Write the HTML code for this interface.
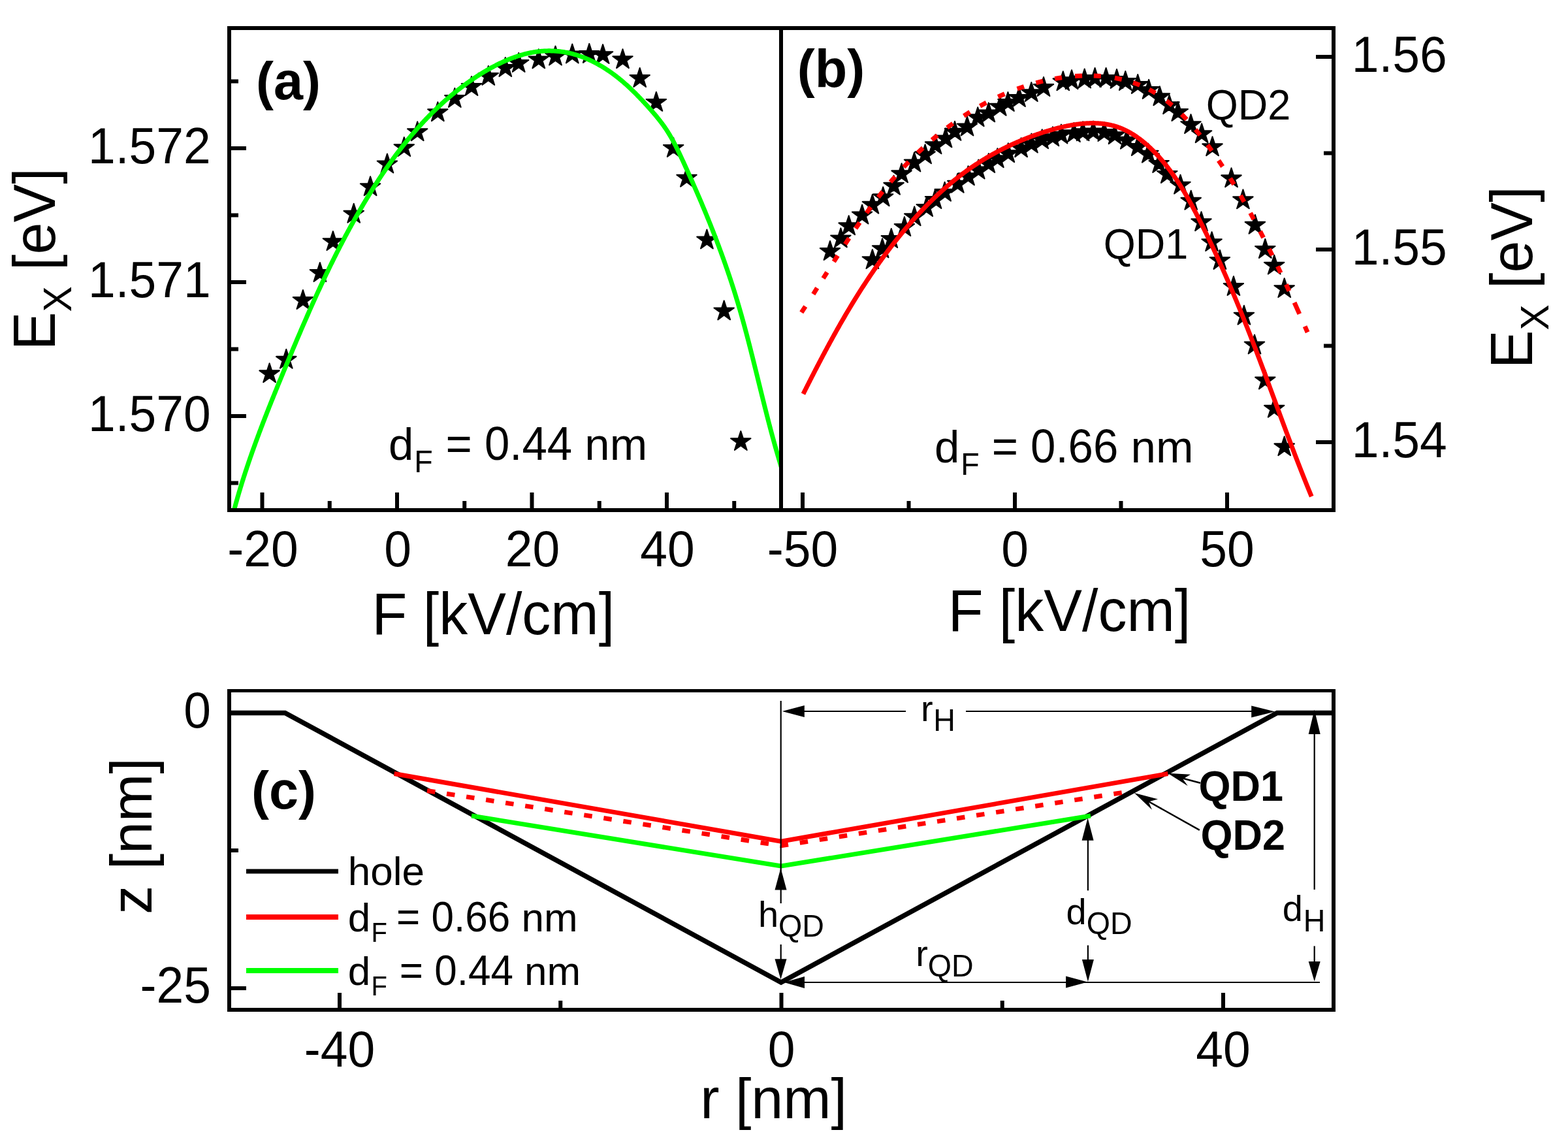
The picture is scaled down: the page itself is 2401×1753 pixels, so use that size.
<!DOCTYPE html><html><head><meta charset="utf-8"><style>html,body{margin:0;padding:0;background:#fff;overflow:hidden}svg{display:block}</style></head><body><svg width="2401" height="1753" viewBox="0 0 2401 1753" font-family="'Liberation Sans', Arial, sans-serif" fill="#000"><rect width="100%" height="100%" fill="#fff"/><rect x="348" y="40" width="1697" height="6" fill="#000"/>
<rect x="348" y="778" width="1697" height="6" fill="#000"/>
<rect x="348" y="40" width="6" height="744" fill="#000"/>
<rect x="1193" y="40" width="6" height="744" fill="#000"/>
<rect x="2039" y="40" width="6" height="744" fill="#000"/>
<rect x="348" y="1055" width="1697" height="5" fill="#000"/>
<rect x="348" y="1543" width="1697" height="6" fill="#000"/>
<rect x="348" y="1055" width="6" height="494" fill="#000"/>
<rect x="2039" y="1055" width="6" height="494" fill="#000"/>
<rect x="398.5" y="754" width="6" height="24" fill="#000"/>
<rect x="605" y="754" width="6" height="24" fill="#000"/>
<rect x="811.5" y="754" width="6" height="24" fill="#000"/>
<rect x="1018" y="754" width="6" height="24" fill="#000"/>
<rect x="501.75" y="767" width="6" height="11" fill="#000"/>
<rect x="708.25" y="767" width="6" height="11" fill="#000"/>
<rect x="914.75" y="767" width="6" height="11" fill="#000"/>
<rect x="1121.25" y="767" width="6" height="11" fill="#000"/>
<rect x="354" y="224" width="23" height="6" fill="#000"/>
<rect x="354" y="429" width="23" height="6" fill="#000"/>
<rect x="354" y="634" width="23" height="6" fill="#000"/>
<rect x="354" y="121.5" width="11" height="6" fill="#000"/>
<rect x="354" y="326.5" width="11" height="6" fill="#000"/>
<rect x="354" y="531.5" width="11" height="6" fill="#000"/>
<rect x="354" y="736.5" width="11" height="6" fill="#000"/>
<rect x="1226" y="754" width="6" height="24" fill="#000"/>
<rect x="1551" y="754" width="6" height="24" fill="#000"/>
<rect x="1876" y="754" width="6" height="24" fill="#000"/>
<rect x="1388.5" y="767" width="6" height="11" fill="#000"/>
<rect x="1713.5" y="767" width="6" height="11" fill="#000"/>
<rect x="2015" y="84" width="24" height="6" fill="#000"/>
<rect x="2015" y="379" width="24" height="6" fill="#000"/>
<rect x="2015" y="674" width="24" height="6" fill="#000"/>
<rect x="2027" y="231.5" width="12" height="6" fill="#000"/>
<rect x="2027" y="526.5" width="12" height="6" fill="#000"/>
<rect x="517" y="1520" width="6" height="23" fill="#000"/>
<rect x="1193.5" y="1520" width="6" height="23" fill="#000"/>
<rect x="1870" y="1520" width="6" height="23" fill="#000"/>
<rect x="855.25" y="1532" width="6" height="11" fill="#000"/>
<rect x="1531.75" y="1532" width="6" height="11" fill="#000"/>
<rect x="354" y="1510" width="23" height="6" fill="#000"/>
<rect x="354" y="1299" width="11" height="6" fill="#000"/>
<defs><clipPath id="ca"><rect x="354" y="46" width="839" height="732"/></clipPath><clipPath id="cb"><rect x="1199" y="46" width="840" height="732"/></clipPath></defs>
<path d="M412.6,556.3 L416.19,567.36 L427.82,567.36 L418.41,574.19 L422,585.24 L412.6,578.41 L403.2,585.24 L406.79,574.19 L397.38,567.36 L409.01,567.36ZM438.3,534.8 L441.89,545.86 L453.52,545.86 L444.11,552.69 L447.7,563.74 L438.3,556.91 L428.9,563.74 L432.49,552.69 L423.08,545.86 L434.71,545.86ZM463.9,444 L467.49,455.06 L479.12,455.06 L469.71,461.89 L473.3,472.94 L463.9,466.11 L454.5,472.94 L458.09,461.89 L448.68,455.06 L460.31,455.06ZM489.9,402 L493.49,413.06 L505.12,413.06 L495.71,419.89 L499.3,430.94 L489.9,424.11 L480.5,430.94 L484.09,419.89 L474.68,413.06 L486.31,413.06ZM509.9,354.1 L513.49,365.16 L525.12,365.16 L515.71,371.99 L519.3,383.04 L509.9,376.21 L500.5,383.04 L504.09,371.99 L494.68,365.16 L506.31,365.16ZM541.7,311.8 L545.29,322.86 L556.92,322.86 L547.51,329.69 L551.1,340.74 L541.7,333.91 L532.3,340.74 L535.89,329.69 L526.48,322.86 L538.11,322.86ZM567.1,270.2 L570.69,281.26 L582.32,281.26 L572.91,288.09 L576.5,299.14 L567.1,292.31 L557.7,299.14 L561.29,288.09 L551.88,281.26 L563.51,281.26ZM592.9,235.5 L596.49,246.56 L608.12,246.56 L598.71,253.39 L602.3,264.44 L592.9,257.61 L583.5,264.44 L587.09,253.39 L577.68,246.56 L589.31,246.56ZM618.8,210.1 L622.39,221.16 L634.02,221.16 L624.61,227.99 L628.2,239.04 L618.8,232.21 L609.4,239.04 L612.99,227.99 L603.58,221.16 L615.21,221.16ZM639.2,186.2 L642.79,197.26 L654.42,197.26 L645.01,204.09 L648.6,215.14 L639.2,208.31 L629.8,215.14 L633.39,204.09 L623.98,197.26 L635.61,197.26ZM670.3,156.2 L673.89,167.26 L685.52,167.26 L676.11,174.09 L679.7,185.14 L670.3,178.31 L660.9,185.14 L664.49,174.09 L655.08,167.26 L666.71,167.26ZM696.3,135 L699.89,146.06 L711.52,146.06 L702.11,152.89 L705.7,163.94 L696.3,157.11 L686.9,163.94 L690.49,152.89 L681.08,146.06 L692.71,146.06ZM722,117 L725.59,128.06 L737.22,128.06 L727.81,134.89 L731.4,145.94 L722,139.11 L712.6,145.94 L716.19,134.89 L706.78,128.06 L718.41,128.06ZM747.8,101 L751.39,112.06 L763.02,112.06 L753.61,118.89 L757.2,129.94 L747.8,123.11 L738.4,129.94 L741.99,118.89 L732.58,112.06 L744.21,112.06ZM773.8,88 L777.39,99.06 L789.02,99.06 L779.61,105.89 L783.2,116.94 L773.8,110.11 L764.4,116.94 L767.99,105.89 L758.58,99.06 L770.21,99.06ZM794.2,81 L797.79,92.06 L809.42,92.06 L800.01,98.89 L803.6,109.94 L794.2,103.11 L784.8,109.94 L788.39,98.89 L778.98,92.06 L790.61,92.06ZM824.8,75.4 L828.39,86.46 L840.02,86.46 L830.61,93.29 L834.2,104.34 L824.8,97.51 L815.4,104.34 L818.99,93.29 L809.58,86.46 L821.21,86.46ZM850.5,70.6 L854.09,81.66 L865.72,81.66 L856.31,88.49 L859.9,99.54 L850.5,92.71 L841.1,99.54 L844.69,88.49 L835.28,81.66 L846.91,81.66ZM876.3,67.5 L879.89,78.56 L891.52,78.56 L882.11,85.39 L885.7,96.44 L876.3,89.61 L866.9,96.44 L870.49,85.39 L861.08,78.56 L872.71,78.56ZM902.3,66.9 L905.89,77.96 L917.52,77.96 L908.11,84.79 L911.7,95.84 L902.3,89.01 L892.9,95.84 L896.49,84.79 L887.08,77.96 L898.71,77.96ZM923.1,68.1 L926.69,79.16 L938.32,79.16 L928.91,85.99 L932.5,97.04 L923.1,90.21 L913.7,97.04 L917.29,85.99 L907.88,79.16 L919.51,79.16ZM953.5,75.2 L957.09,86.26 L968.72,86.26 L959.31,93.09 L962.9,104.14 L953.5,97.31 L944.1,104.14 L947.69,93.09 L938.28,86.26 L949.91,86.26ZM979.7,104 L983.29,115.06 L994.92,115.06 L985.51,121.89 L989.1,132.94 L979.7,126.11 L970.3,132.94 L973.89,121.89 L964.48,115.06 L976.11,115.06ZM1004.9,140.9 L1008.49,151.96 L1020.12,151.96 L1010.71,158.79 L1014.3,169.84 L1004.9,163.01 L995.5,169.84 L999.09,158.79 L989.68,151.96 L1001.31,151.96ZM1031.2,210.9 L1034.79,221.96 L1046.42,221.96 L1037.01,228.79 L1040.6,239.84 L1031.2,233.01 L1021.8,239.84 L1025.39,228.79 L1015.98,221.96 L1027.61,221.96ZM1051.5,256.7 L1055.09,267.76 L1066.72,267.76 L1057.31,274.59 L1060.9,285.64 L1051.5,278.81 L1042.1,285.64 L1045.69,274.59 L1036.28,267.76 L1047.91,267.76ZM1082.4,351.5 L1085.99,362.56 L1097.62,362.56 L1088.21,369.39 L1091.8,380.44 L1082.4,373.61 L1073,380.44 L1076.59,369.39 L1067.18,362.56 L1078.81,362.56ZM1108.7,460.4 L1112.29,471.46 L1123.92,471.46 L1114.51,478.29 L1118.1,489.34 L1108.7,482.51 L1099.3,489.34 L1102.89,478.29 L1093.48,471.46 L1105.11,471.46ZM1134.3,660.1 L1137.89,671.16 L1149.52,671.16 L1140.11,677.99 L1143.7,689.04 L1134.3,682.21 L1124.9,689.04 L1128.49,677.99 L1119.08,671.16 L1130.71,671.16Z" fill="#000" stroke="#000" stroke-width="2" stroke-linejoin="round"/>
<g clip-path="url(#ca)"><path d="M350,812.1 L359.41,777.34 L359.69,776.31 L359.97,775.28 L360.25,774.24 L360.54,773.21 L360.82,772.17 L361.11,771.14 L361.39,770.1 L361.68,769.07 L361.97,768.04 L362.26,767 L362.55,765.97 L362.84,764.93 L363.14,763.9 L363.43,762.86 L363.73,761.83 L364.03,760.79 L364.33,759.76 L364.63,758.72 L364.93,757.69 L365.23,756.65 L365.54,755.62 L365.84,754.58 L366.15,753.54 L366.45,752.51 L366.76,751.47 L367.07,750.44 L367.38,749.4 L367.7,748.37 L368.01,747.33 L368.32,746.3 L368.64,745.26 L368.96,744.22 L369.27,743.19 L369.59,742.15 L369.91,741.12 L370.23,740.08 L370.56,739.04 L370.88,738.01 L371.2,736.97 L371.53,735.93 L371.86,734.9 L372.18,733.86 L372.51,732.83 L372.84,731.79 L373.17,730.75 L373.51,729.72 L373.84,728.68 L374.17,727.64 L374.51,726.61 L374.84,725.57 L375.18,724.53 L375.52,723.5 L375.86,722.46 L376.2,721.42 L376.54,720.39 L376.88,719.35 L377.23,718.31 L377.57,717.28 L377.91,716.24 L378.26,715.2 L378.61,714.17 L378.96,713.13 L379.31,712.09 L379.66,711.06 L380.01,710.02 L380.36,708.98 L380.71,707.95 L381.06,706.91 L381.42,705.87 L381.77,704.84 L382.13,703.8 L382.49,702.76 L382.85,701.73 L383.21,700.69 L383.57,699.65 L383.93,698.62 L384.29,697.58 L384.65,696.54 L385.01,695.51 L385.38,694.47 L385.74,693.43 L386.11,692.4 L386.48,691.36 L386.84,690.32 L387.21,689.29 L387.58,688.25 L387.95,687.21 L388.32,686.18 L388.7,685.14 L389.07,684.1 L389.44,683.07 L389.82,682.03 L390.19,680.99 L390.57,679.96 L390.94,678.92 L391.32,677.89 L391.7,676.85 L392.08,675.81 L392.46,674.78 L392.84,673.74 L393.22,672.7 L393.6,671.67 L393.98,670.63 L394.36,669.6 L394.75,668.56 L395.13,667.52 L395.52,666.49 L395.9,665.45 L396.29,664.42 L396.68,663.38 L397.07,662.35 L397.45,661.31 L397.84,660.27 L398.23,659.24 L398.62,658.2 L399.02,657.17 L399.41,656.13 L399.8,655.1 L400.19,654.06 L400.59,653.03 L400.98,651.99 L401.38,650.96 L401.77,649.92 L402.17,648.89 L402.56,647.85 L402.96,646.82 L403.36,645.78 L403.76,644.75 L404.16,643.71 L404.56,642.68 L404.96,641.65 L405.36,640.61 L405.76,639.58 L406.16,638.54 L406.56,637.51 L406.97,636.47 L407.37,635.44 L407.77,634.41 L408.18,633.37 L408.58,632.34 L408.99,631.31 L409.39,630.27 L409.8,629.24 L410.21,628.21 L410.62,627.17 L411.02,626.14 L411.43,625.11 L411.84,624.07 L412.25,623.04 L412.66,622.01 L413.07,620.98 L413.48,619.94 L413.89,618.91 L414.3,617.88 L414.71,616.85 L415.13,615.81 L415.54,614.78 L415.95,613.75 L416.36,612.72 L416.78,611.69 L417.19,610.65 L417.61,609.62 L418.02,608.59 L418.44,607.56 L418.85,606.53 L419.27,605.5 L419.69,604.47 L420.1,603.44 L420.52,602.41 L420.94,601.38 L421.35,600.35 L421.77,599.32 L422.19,598.29 L422.61,597.26 L423.03,596.23 L423.45,595.2 L423.87,594.17 L424.29,593.14 L424.71,592.11 L425.13,591.08 L425.55,590.05 L425.97,589.02 L426.39,587.99 L426.81,586.96 L427.23,585.93 L427.65,584.91 L428.08,583.88 L428.5,582.85 L428.92,581.82 L429.34,580.79 L429.77,579.77 L430.19,578.74 L430.61,577.71 L431.04,576.68 L431.46,575.66 L431.88,574.63 L432.31,573.6 L432.73,572.58 L433.16,571.55 L433.58,570.52 L434.01,569.5 L434.43,568.47 L434.86,567.45 L435.28,566.42 L435.71,565.4 L436.13,564.37 L436.56,563.35 L436.98,562.32 L437.41,561.3 L437.83,560.27 L438.26,559.25 L438.69,558.22 L439.11,557.2 L439.54,556.18 L439.96,555.15 L440.39,554.13 L440.82,553.1 L441.24,552.08 L441.67,551.06 L442.1,550.04 L442.52,549.01 L442.95,547.99 L443.38,546.97 L443.8,545.95 L444.23,544.92 L444.66,543.9 L445.09,542.88 L445.51,541.86 L445.94,540.84 L446.37,539.82 L446.8,538.8 L447.23,537.78 L447.66,536.76 L448.08,535.74 L448.51,534.72 L448.94,533.7 L449.37,532.68 L449.8,531.66 L450.23,530.64 L450.66,529.62 L451.09,528.6 L451.52,527.58 L451.95,526.57 L452.38,525.55 L452.81,524.53 L453.24,523.51 L453.67,522.5 L454.11,521.48 L454.54,520.46 L454.97,519.44 L455.4,518.43 L455.83,517.41 L456.27,516.4 L456.7,515.38 L457.13,514.36 L457.57,513.35 L458,512.33 L458.43,511.32 L458.87,510.3 L459.3,509.29 L459.74,508.28 L460.17,507.26 L460.61,506.25 L461.04,505.24 L461.48,504.22 L461.91,503.21 L462.35,502.2 L462.79,501.18 L463.22,500.17 L463.66,499.16 L464.1,498.15 L464.54,497.14 L464.97,496.13 L465.41,495.11 L465.85,494.1 L466.29,493.09 L466.73,492.08 L467.17,491.07 L467.61,490.06 L468.05,489.05 L468.49,488.04 L468.93,487.04 L469.37,486.03 L469.81,485.02 L470.26,484.01 L470.7,483 L471.14,481.99 L471.58,480.99 L472.03,479.98 L472.47,478.97 L472.92,477.97 L473.36,476.96 L473.81,475.95 L474.25,474.95 L474.7,473.94 L475.14,472.94 L475.59,471.93 L476.04,470.93 L476.48,469.92 L476.93,468.92 L477.38,467.92 L477.83,466.91 L478.28,465.91 L478.73,464.91 L479.18,463.9 L479.63,462.9 L480.08,461.9 L480.53,460.9 L480.98,459.9 L481.43,458.9 L481.89,457.9 L482.34,456.89 L482.79,455.89 L483.25,454.89 L483.7,453.9 L484.15,452.9 L484.61,451.9 L485.07,450.9 L485.52,449.9 L485.98,448.9 L486.44,447.9 L486.89,446.91 L487.35,445.91 L487.81,444.91 L488.27,443.92 L488.73,442.92 L489.19,441.92 L489.65,440.93 L490.11,439.93 L490.57,438.94 L491.03,437.94 L491.5,436.95 L491.96,435.95 L492.42,434.96 L492.89,433.97 L493.35,432.97 L493.82,431.98 L494.28,430.99 L494.75,430 L495.22,429.01 L495.69,428.01 L496.15,427.02 L496.62,426.03 L497.09,425.04 L497.56,424.05 L498.03,423.06 L498.5,422.07 L498.98,421.08 L499.45,420.09 L499.92,419.11 L500.39,418.12 L500.87,417.13 L501.34,416.14 L501.82,415.16 L502.29,414.17 L502.77,413.18 L503.25,412.2 L503.72,411.21 L504.2,410.23 L504.68,409.24 L505.16,408.26 L505.64,407.27 L506.12,406.29 L506.6,405.31 L507.08,404.32 L507.57,403.34 L508.05,402.36 L508.53,401.38 L509.02,400.4 L509.5,399.41 L509.99,398.43 L510.48,397.45 L510.96,396.47 L511.45,395.49 L511.94,394.51 L512.43,393.53 L512.92,392.56 L513.41,391.58 L513.9,390.6 L514.39,389.62 L514.89,388.65 L515.38,387.67 L515.88,386.69 L516.37,385.72 L516.87,384.74 L517.36,383.77 L517.86,382.79 L518.36,381.82 L518.86,380.84 L519.36,379.87 L519.86,378.9 L520.36,377.92 L520.86,376.95 L521.36,375.98 L521.86,375.01 L522.37,374.04 L522.87,373.07 L523.38,372.09 L523.88,371.12 L524.39,370.16 L524.9,369.19 L525.41,368.22 L525.91,367.25 L526.42,366.28 L526.94,365.31 L527.45,364.35 L527.96,363.38 L528.47,362.41 L528.99,361.45 L529.5,360.48 L530.02,359.52 L530.53,358.55 L531.05,357.59 L531.57,356.62 L532.09,355.66 L532.61,354.7 L533.13,353.74 L533.65,352.77 L534.17,351.81 L534.69,350.85 L535.22,349.89 L535.74,348.93 L536.27,347.97 L536.79,347.01 L537.32,346.05 L537.85,345.09 L538.38,344.13 L538.91,343.18 L539.44,342.22 L539.97,341.26 L540.5,340.31 L541.04,339.35 L541.57,338.39 L542.11,337.44 L542.64,336.48 L543.18,335.53 L543.72,334.58 L544.26,333.62 L544.8,332.67 L545.34,331.72 L545.88,330.77 L546.42,329.81 L546.96,328.86 L547.51,327.91 L548.05,326.96 L548.6,326.01 L549.15,325.06 L549.7,324.12 L550.24,323.17 L550.79,322.22 L551.35,321.27 L551.9,320.33 L552.45,319.38 L553,318.43 L553.56,317.49 L554.11,316.54 L554.67,315.6 L555.23,314.65 L555.79,313.71 L556.35,312.77 L556.91,311.83 L557.47,310.88 L558.03,309.94 L558.6,309 L559.16,308.06 L559.73,307.12 L560.29,306.18 L560.86,305.24 L561.43,304.3 L562,303.36 L562.57,302.43 L563.14,301.49 L563.72,300.55 L564.29,299.62 L564.86,298.68 L565.44,297.75 L566.02,296.81 L566.6,295.88 L567.17,294.94 L567.75,294.01 L568.34,293.08 L568.92,292.15 L569.5,291.21 L570.09,290.28 L570.67,289.35 L571.26,288.42 L571.85,287.49 L572.44,286.57 L573.03,285.64 L573.62,284.71 L574.21,283.78 L574.8,282.86 L575.4,281.93 L575.99,281.01 L576.59,280.08 L577.19,279.16 L577.79,278.24 L578.39,277.32 L578.99,276.39 L579.59,275.47 L580.2,274.55 L580.8,273.64 L581.41,272.72 L582.02,271.8 L582.62,270.88 L583.23,269.97 L583.85,269.05 L584.46,268.14 L585.07,267.22 L585.69,266.31 L586.3,265.4 L586.92,264.49 L587.54,263.57 L588.16,262.66 L588.78,261.76 L589.4,260.85 L590.02,259.94 L590.65,259.03 L591.28,258.13 L591.9,257.22 L592.53,256.32 L593.16,255.42 L593.79,254.51 L594.42,253.61 L595.06,252.71 L595.69,251.81 L596.33,250.91 L596.97,250.02 L597.61,249.12 L598.25,248.23 L598.89,247.33 L599.53,246.44 L600.18,245.54 L600.82,244.65 L601.47,243.76 L602.12,242.87 L602.77,241.98 L603.42,241.1 L604.07,240.21 L604.72,239.32 L605.38,238.44 L606.04,237.56 L606.69,236.67 L607.35,235.79 L608.01,234.91 L608.68,234.03 L609.34,233.15 L610.01,232.28 L610.67,231.4 L611.34,230.53 L612.01,229.65 L612.68,228.78 L613.35,227.91 L614.03,227.04 L614.7,226.17 L615.38,225.3 L616.06,224.43 L616.74,223.57 L617.42,222.7 L618.1,221.84 L618.78,220.98 L619.47,220.12 L620.16,219.26 L620.84,218.4 L621.53,217.54 L622.23,216.69 L622.92,215.83 L623.61,214.98 L624.31,214.13 L625.01,213.28 L625.71,212.43 L626.41,211.58 L627.11,210.73 L627.81,209.89 L628.52,209.04 L629.23,208.2 L629.93,207.36 L630.65,206.52 L631.36,205.68 L632.07,204.84 L632.78,204 L633.5,203.17 L634.22,202.34 L634.94,201.5 L635.66,200.67 L636.38,199.84 L637.11,199.02 L637.83,198.19 L638.56,197.36 L639.29,196.54 L640.02,195.72 L640.76,194.9 L641.49,194.08 L642.23,193.26 L642.96,192.45 L643.7,191.63 L644.44,190.82 L645.19,190.01 L645.93,189.2 L646.68,188.39 L647.43,187.58 L648.17,186.78 L648.93,185.97 L649.68,185.17 L650.43,184.37 L651.19,183.57 L651.95,182.77 L652.71,181.98 L653.47,181.18 L654.23,180.39 L655,179.6 L655.76,178.81 L656.53,178.02 L657.3,177.23 L658.08,176.45 L658.85,175.67 L659.62,174.89 L660.4,174.11 L661.18,173.33 L661.96,172.55 L662.74,171.78 L663.53,171 L664.32,170.23 L665.1,169.46 L665.89,168.7 L666.69,167.93 L667.48,167.17 L668.28,166.4 L669.07,165.64 L669.87,164.88 L670.67,164.13 L671.48,163.37 L672.28,162.62 L673.09,161.87 L673.9,161.12 L674.71,160.37 L675.52,159.62 L676.33,158.88 L677.15,158.14 L677.97,157.4 L678.79,156.66 L679.61,155.92 L680.43,155.18 L681.26,154.45 L682.08,153.72 L682.91,152.99 L683.75,152.26 L684.58,151.54 L685.41,150.81 L686.25,150.09 L687.09,149.37 L687.93,148.66 L688.77,147.94 L689.62,147.23 L690.47,146.51 L691.32,145.81 L692.17,145.1 L693.02,144.39 L693.87,143.69 L694.73,142.99 L695.59,142.29 L696.45,141.59 L697.31,140.89 L698.18,140.2 L699.05,139.51 L699.92,138.82 L700.79,138.13 L701.66,137.45 L702.53,136.76 L703.41,136.08 L704.29,135.4 L705.17,134.73 L706.06,134.05 L706.94,133.38 L707.83,132.71 L708.72,132.04 L709.61,131.37 L710.5,130.71 L711.4,130.05 L712.3,129.39 L713.2,128.73 L714.1,128.08 L715,127.42 L715.91,126.77 L716.82,126.13 L717.73,125.48 L718.64,124.84 L719.56,124.19 L720.48,123.55 L721.39,122.92 L722.32,122.28 L723.24,121.65 L724.17,121.02 L725.09,120.39 L726.02,119.77 L726.96,119.14 L727.89,118.52 L728.83,117.9 L729.77,117.29 L730.71,116.67 L731.65,116.06 L732.6,115.45 L733.54,114.85 L734.49,114.25 L735.44,113.65 L736.4,113.05 L737.35,112.45 L738.31,111.86 L739.27,111.28 L740.23,110.69 L741.19,110.11 L742.16,109.53 L743.13,108.96 L744.09,108.38 L745.06,107.82 L746.04,107.25 L747.01,106.69 L747.99,106.13 L748.97,105.58 L749.95,105.03 L750.93,104.48 L751.91,103.94 L752.9,103.4 L753.88,102.86 L754.87,102.33 L755.86,101.81 L756.86,101.28 L757.85,100.77 L758.84,100.25 L759.84,99.74 L760.84,99.23 L761.84,98.73 L762.84,98.24 L763.85,97.74 L764.85,97.26 L765.86,96.77 L766.86,96.29 L767.87,95.82 L768.89,95.35 L769.9,94.89 L770.91,94.43 L771.93,93.97 L772.94,93.52 L773.96,93.08 L774.98,92.64 L776,92.21 L777.03,91.78 L778.05,91.36 L779.07,90.94 L780.1,90.52 L781.13,90.12 L782.16,89.72 L783.19,89.32 L784.22,88.93 L785.25,88.55 L786.29,88.17 L787.32,87.79 L788.36,87.43 L789.39,87.07 L790.43,86.71 L791.47,86.36 L792.51,86.02 L793.56,85.68 L794.6,85.35 L795.64,85.03 L796.69,84.71 L797.73,84.4 L798.78,84.09 L799.83,83.8 L800.88,83.5 L801.93,83.22 L802.98,82.94 L804.03,82.67 L805.08,82.4 L806.14,82.15 L807.19,81.9 L808.25,81.65 L809.31,81.41 L810.36,81.18 L811.42,80.96 L812.48,80.75 L813.54,80.54 L814.6,80.34 L815.66,80.14 L816.72,79.96 L817.79,79.78 L818.85,79.61 L819.91,79.44 L820.98,79.29 L822.05,79.14 L823.11,79 L824.18,78.87 L825.25,78.74 L826.31,78.63 L827.38,78.52 L828.45,78.42 L829.52,78.32 L830.59,78.24 L831.66,78.16 L832.73,78.1 L833.81,78.04 L834.88,77.99 L835.95,77.94 L837.02,77.91 L838.1,77.88 L839.17,77.87 L840.24,77.86 L841.32,77.86 L842.39,77.86 L843.47,77.88 L844.54,77.9 L845.62,77.94 L846.69,77.98 L847.77,78.03 L848.84,78.08 L849.91,78.15 L850.99,78.22 L852.06,78.3 L853.13,78.39 L854.21,78.49 L855.28,78.6 L856.35,78.71 L857.42,78.84 L858.5,78.97 L859.57,79.11 L860.64,79.25 L861.71,79.41 L862.78,79.57 L863.84,79.75 L864.91,79.93 L865.98,80.11 L867.04,80.31 L868.11,80.52 L869.17,80.73 L870.24,80.95 L871.3,81.18 L872.36,81.42 L873.42,81.66 L874.48,81.91 L875.54,82.18 L876.59,82.45 L877.65,82.72 L878.7,83.01 L879.76,83.3 L880.81,83.6 L881.86,83.91 L882.91,84.23 L883.95,84.56 L885,84.89 L886.04,85.23 L887.08,85.58 L888.12,85.94 L889.16,86.31 L890.2,86.68 L891.24,87.06 L892.27,87.45 L893.3,87.85 L894.33,88.25 L895.36,88.66 L896.38,89.08 L897.41,89.5 L898.43,89.93 L899.45,90.37 L900.47,90.82 L901.48,91.27 L902.49,91.73 L903.5,92.19 L904.51,92.67 L905.52,93.14 L906.52,93.63 L907.52,94.12 L908.52,94.62 L909.52,95.12 L910.51,95.63 L911.5,96.15 L912.49,96.67 L913.47,97.2 L914.45,97.73 L915.43,98.27 L916.41,98.81 L917.38,99.36 L918.35,99.92 L919.32,100.48 L920.29,101.04 L921.25,101.61 L922.21,102.19 L923.16,102.77 L924.11,103.35 L925.06,103.94 L926.01,104.54 L926.95,105.14 L927.89,105.74 L928.83,106.35 L929.76,106.96 L930.69,107.58 L931.61,108.2 L932.53,108.83 L933.45,109.46 L934.36,110.09 L935.28,110.73 L936.18,111.37 L937.09,112.02 L937.98,112.67 L938.88,113.32 L939.77,113.97 L940.66,114.63 L941.54,115.3 L942.42,115.96 L943.3,116.63 L944.17,117.31 L945.04,117.98 L945.9,118.66 L946.77,119.35 L947.63,120.03 L948.48,120.72 L949.33,121.41 L950.18,122.11 L951.03,122.81 L951.87,123.51 L952.71,124.22 L953.54,124.93 L954.38,125.64 L955.21,126.35 L956.03,127.07 L956.86,127.79 L957.68,128.51 L958.5,129.24 L959.31,129.97 L960.13,130.7 L960.94,131.44 L961.75,132.18 L962.55,132.92 L963.36,133.66 L964.16,134.41 L964.96,135.16 L965.75,135.91 L966.55,136.67 L967.34,137.43 L968.13,138.19 L968.92,138.95 L969.7,139.72 L970.49,140.49 L971.27,141.26 L972.05,142.03 L972.83,142.81 L973.61,143.59 L974.38,144.37 L975.16,145.16 L975.93,145.94 L976.7,146.73 L977.47,147.52 L978.24,148.32 L979.01,149.11 L979.77,149.91 L980.54,150.71 L981.3,151.52 L982.06,152.32 L982.83,153.13 L983.59,153.94 L984.34,154.75 L985.1,155.57 L985.86,156.39 L986.62,157.2 L987.37,158.03 L988.13,158.85 L988.89,159.68 L989.64,160.5 L990.39,161.33 L991.15,162.16 L991.9,163 L992.65,163.83 L993.41,164.67 L994.16,165.51 L994.91,166.35 L995.66,167.2 L996.41,168.04 L997.16,168.89 L997.9,169.74 L998.65,170.59 L999.39,171.44 L1000.13,172.3 L1000.87,173.16 L1001.61,174.02 L1002.34,174.88 L1003.07,175.74 L1003.8,176.61 L1004.53,177.48 L1005.25,178.35 L1005.97,179.22 L1006.68,180.09 L1007.4,180.97 L1008.1,181.85 L1008.81,182.73 L1009.51,183.61 L1010.21,184.5 L1010.9,185.38 L1011.58,186.27 L1012.27,187.16 L1012.94,188.06 L1013.62,188.95 L1014.28,189.85 L1014.94,190.75 L1015.6,191.65 L1016.25,192.56 L1016.89,193.46 L1017.53,194.37 L1018.16,195.28 L1018.79,196.19 L1019.41,197.11 L1020.02,198.02 L1020.63,198.94 L1021.23,199.86 L1021.82,200.79 L1022.41,201.71 L1022.99,202.64 L1023.57,203.57 L1024.15,204.5 L1024.71,205.43 L1025.28,206.37 L1025.83,207.3 L1026.39,208.24 L1026.94,209.18 L1027.48,210.12 L1028.02,211.06 L1028.55,212.01 L1029.08,212.95 L1029.61,213.9 L1030.13,214.85 L1030.65,215.8 L1031.16,216.75 L1031.67,217.71 L1032.18,218.66 L1032.69,219.62 L1033.19,220.58 L1033.68,221.54 L1034.18,222.5 L1034.67,223.46 L1035.16,224.42 L1035.64,225.39 L1036.12,226.35 L1036.6,227.32 L1037.08,228.29 L1037.56,229.25 L1038.03,230.22 L1038.5,231.2 L1038.97,232.17 L1039.44,233.14 L1039.9,234.11 L1040.36,235.09 L1040.83,236.06 L1041.29,237.04 L1041.75,238.02 L1042.21,238.99 L1042.66,239.97 L1043.12,240.95 L1043.58,241.93 L1044.03,242.91 L1044.48,243.89 L1044.94,244.87 L1045.39,245.86 L1045.85,246.84 L1046.3,247.82 L1046.75,248.8 L1047.2,249.79 L1047.66,250.77 L1048.11,251.76 L1048.56,252.74 L1049.01,253.73 L1049.46,254.72 L1049.91,255.7 L1050.36,256.69 L1050.81,257.68 L1051.26,258.67 L1051.71,259.66 L1052.16,260.65 L1052.61,261.64 L1053.06,262.63 L1053.51,263.62 L1053.95,264.61 L1054.4,265.6 L1054.85,266.6 L1055.29,267.59 L1055.74,268.58 L1056.19,269.58 L1056.63,270.57 L1057.08,271.57 L1057.52,272.56 L1057.97,273.56 L1058.41,274.55 L1058.85,275.55 L1059.3,276.55 L1059.74,277.55 L1060.18,278.54 L1060.63,279.54 L1061.07,280.54 L1061.51,281.54 L1061.95,282.54 L1062.39,283.54 L1062.83,284.54 L1063.27,285.55 L1063.71,286.55 L1064.15,287.55 L1064.59,288.55 L1065.03,289.56 L1065.46,290.56 L1065.9,291.56 L1066.34,292.57 L1066.77,293.57 L1067.21,294.58 L1067.64,295.59 L1068.08,296.59 L1068.51,297.6 L1068.95,298.61 L1069.38,299.61 L1069.81,300.62 L1070.25,301.63 L1070.68,302.64 L1071.11,303.65 L1071.54,304.66 L1071.97,305.67 L1072.4,306.68 L1072.83,307.69 L1073.26,308.7 L1073.69,309.71 L1074.12,310.73 L1074.55,311.74 L1074.97,312.75 L1075.4,313.77 L1075.83,314.78 L1076.25,315.8 L1076.68,316.81 L1077.1,317.83 L1077.53,318.84 L1077.95,319.86 L1078.37,320.87 L1078.79,321.89 L1079.22,322.91 L1079.64,323.93 L1080.06,324.94 L1080.48,325.96 L1080.9,326.98 L1081.32,328 L1081.74,329.02 L1082.15,330.04 L1082.57,331.06 L1082.99,332.08 L1083.4,333.1 L1083.82,334.12 L1084.23,335.15 L1084.65,336.17 L1085.06,337.19 L1085.48,338.21 L1085.89,339.24 L1086.3,340.26 L1086.71,341.29 L1087.12,342.31 L1087.53,343.34 L1087.94,344.36 L1088.35,345.39 L1088.76,346.41 L1089.17,347.44 L1089.57,348.47 L1089.98,349.49 L1090.39,350.52 L1090.79,351.55 L1091.2,352.58 L1091.6,353.6 L1092,354.63 L1092.41,355.66 L1092.81,356.69 L1093.21,357.72 L1093.61,358.75 L1094.01,359.78 L1094.41,360.81 L1094.81,361.85 L1095.2,362.88 L1095.6,363.91 L1096,364.94 L1096.39,365.97 L1096.79,367.01 L1097.18,368.04 L1097.58,369.07 L1097.97,370.11 L1098.36,371.14 L1098.75,372.18 L1099.14,373.21 L1099.53,374.25 L1099.92,375.28 L1100.31,376.32 L1100.7,377.35 L1101.09,378.39 L1101.47,379.43 L1101.86,380.46 L1102.24,381.5 L1102.63,382.54 L1103.01,383.58 L1103.39,384.62 L1103.77,385.65 L1104.15,386.69 L1104.54,387.73 L1104.91,388.77 L1105.29,389.81 L1105.67,390.85 L1106.05,391.89 L1106.42,392.93 L1106.8,393.97 L1107.17,395.02 L1107.55,396.06 L1107.92,397.1 L1108.29,398.14 L1108.67,399.18 L1109.04,400.23 L1109.41,401.27 L1109.78,402.31 L1110.14,403.36 L1110.51,404.4 L1110.88,405.44 L1111.24,406.49 L1111.61,407.53 L1111.97,408.58 L1112.34,409.62 L1112.7,410.67 L1113.06,411.71 L1113.42,412.76 L1113.78,413.81 L1114.14,414.85 L1114.5,415.9 L1114.85,416.95 L1115.21,417.99 L1115.57,419.04 L1115.92,420.09 L1116.27,421.14 L1116.63,422.18 L1116.98,423.23 L1117.33,424.28 L1117.68,425.33 L1118.03,426.38 L1118.38,427.43 L1118.73,428.48 L1119.07,429.53 L1119.42,430.58 L1119.76,431.63 L1120.11,432.68 L1120.45,433.73 L1120.79,434.78 L1121.13,435.83 L1121.47,436.88 L1121.81,437.94 L1122.15,438.99 L1122.49,440.04 L1122.82,441.09 L1123.16,442.15 L1123.49,443.2 L1123.83,444.25 L1124.16,445.31 L1124.49,446.36 L1124.82,447.41 L1125.15,448.47 L1125.48,449.52 L1125.8,450.57 L1126.13,451.63 L1126.46,452.68 L1126.78,453.74 L1127.1,454.79 L1127.43,455.85 L1127.75,456.9 L1128.07,457.96 L1128.39,459.02 L1128.71,460.07 L1129.03,461.13 L1129.34,462.19 L1129.66,463.24 L1129.97,464.3 L1130.29,465.36 L1130.6,466.41 L1130.91,467.47 L1131.22,468.53 L1131.53,469.59 L1131.84,470.64 L1132.15,471.7 L1132.46,472.76 L1132.77,473.82 L1133.07,474.88 L1133.38,475.94 L1133.68,476.99 L1133.98,478.05 L1134.29,479.11 L1134.59,480.17 L1134.89,481.23 L1135.19,482.29 L1135.49,483.35 L1135.79,484.41 L1136.09,485.47 L1136.38,486.53 L1136.68,487.59 L1136.98,488.65 L1137.27,489.71 L1137.56,490.77 L1137.86,491.84 L1138.15,492.9 L1138.44,493.96 L1138.73,495.02 L1139.03,496.08 L1139.32,497.14 L1139.6,498.21 L1139.89,499.27 L1140.18,500.33 L1140.47,501.39 L1140.76,502.45 L1141.04,503.52 L1141.33,504.58 L1141.61,505.64 L1141.9,506.71 L1142.18,507.77 L1142.46,508.83 L1142.75,509.89 L1143.03,510.96 L1143.31,512.02 L1143.59,513.09 L1143.87,514.15 L1144.15,515.21 L1144.43,516.28 L1144.71,517.34 L1144.99,518.41 L1145.26,519.47 L1145.54,520.53 L1145.82,521.6 L1146.09,522.66 L1146.37,523.73 L1146.64,524.79 L1146.92,525.86 L1147.19,526.92 L1147.47,527.99 L1147.74,529.05 L1148.01,530.12 L1148.29,531.18 L1148.56,532.25 L1148.83,533.31 L1149.1,534.38 L1149.37,535.45 L1149.64,536.51 L1149.92,537.58 L1150.19,538.64 L1150.45,539.71 L1150.72,540.77 L1150.99,541.84 L1151.26,542.91 L1151.53,543.97 L1151.8,545.04 L1152.07,546.11 L1152.33,547.17 L1152.6,548.24 L1152.87,549.31 L1153.13,550.37 L1153.4,551.44 L1153.67,552.5 L1153.93,553.57 L1154.2,554.64 L1154.46,555.71 L1154.73,556.77 L1154.99,557.84 L1155.26,558.91 L1155.52,559.97 L1155.79,561.04 L1156.05,562.11 L1156.32,563.17 L1156.58,564.24 L1156.84,565.31 L1157.11,566.38 L1157.37,567.44 L1157.63,568.51 L1157.9,569.58 L1158.16,570.65 L1158.42,571.71 L1158.69,572.78 L1158.95,573.85 L1159.21,574.92 L1159.48,575.98 L1159.74,577.05 L1160,578.12 L1160.26,579.19 L1160.53,580.25 L1160.79,581.32 L1161.05,582.39 L1161.31,583.46 L1161.58,584.52 L1161.84,585.59 L1162.1,586.66 L1162.36,587.73 L1162.63,588.79 L1162.89,589.86 L1163.15,590.93 L1163.41,592 L1163.68,593.06 L1163.94,594.13 L1164.2,595.2 L1164.47,596.27 L1164.73,597.33 L1164.99,598.4 L1165.26,599.47 L1165.52,600.54 L1165.78,601.61 L1166.05,602.67 L1166.31,603.74 L1166.57,604.81 L1166.84,605.87 L1167.1,606.94 L1167.37,608.01 L1167.63,609.08 L1167.9,610.14 L1168.16,611.21 L1168.43,612.28 L1168.69,613.35 L1168.96,614.41 L1169.23,615.48 L1169.49,616.55 L1169.76,617.61 L1170.02,618.68 L1170.29,619.75 L1170.56,620.82 L1170.83,621.88 L1171.09,622.95 L1171.36,624.02 L1171.63,625.08 L1171.9,626.15 L1172.17,627.22 L1172.44,628.28 L1172.71,629.35 L1172.98,630.42 L1173.25,631.48 L1173.52,632.55 L1173.79,633.61 L1174.06,634.68 L1174.34,635.75 L1174.61,636.81 L1174.88,637.88 L1175.15,638.94 L1175.43,640.01 L1175.7,641.08 L1175.98,642.14 L1176.25,643.21 L1176.53,644.27 L1176.8,645.34 L1177.08,646.4 L1177.36,647.47 L1177.63,648.53 L1177.91,649.6 L1178.19,650.66 L1178.47,651.73 L1178.75,652.79 L1179.03,653.86 L1179.31,654.92 L1179.59,655.99 L1179.87,657.05 L1180.16,658.12 L1180.44,659.18 L1180.72,660.25 L1181.01,661.31 L1181.29,662.37 L1181.58,663.44 L1181.86,664.5 L1182.15,665.56 L1182.44,666.63 L1182.72,667.69 L1183.01,668.75 L1183.3,669.82 L1183.59,670.88 L1183.88,671.94 L1184.17,673.01 L1184.46,674.07 L1184.76,675.13 L1185.05,676.19 L1185.34,677.26 L1185.64,678.32 L1185.93,679.38 L1186.23,680.44 L1186.53,681.5 L1186.82,682.57 L1187.12,683.63 L1187.42,684.69 L1187.72,685.75 L1188.02,686.81 L1188.32,687.87 L1188.63,688.93 L1188.93,689.99 L1189.23,691.05 L1189.54,692.11 L1189.84,693.17 L1190.15,694.23 L1190.46,695.29 L1190.76,696.35 L1191.07,697.41 L1191.38,698.47 L1191.69,699.53 L1192.01,700.59 L1192.32,701.65 L1192.63,702.71 L1192.95,703.77 L1193.26,704.82 L1200,727.51" fill="none" stroke="#00FF00" stroke-width="7" stroke-linejoin="round"/></g>
<path d="M1271,369 L1274.59,380.06 L1286.22,380.06 L1276.81,386.89 L1280.4,397.94 L1271,391.11 L1261.6,397.94 L1265.19,386.89 L1255.78,380.06 L1267.41,380.06ZM1287.4,349.4 L1290.99,360.46 L1302.62,360.46 L1293.21,367.29 L1296.8,378.34 L1287.4,371.51 L1278,378.34 L1281.59,367.29 L1272.18,360.46 L1283.81,360.46ZM1299.7,330.3 L1303.29,341.36 L1314.92,341.36 L1305.51,348.19 L1309.1,359.24 L1299.7,352.41 L1290.3,359.24 L1293.89,348.19 L1284.48,341.36 L1296.11,341.36ZM1320.1,313.5 L1323.69,324.56 L1335.32,324.56 L1325.91,331.39 L1329.5,342.44 L1320.1,335.61 L1310.7,342.44 L1314.29,331.39 L1304.88,324.56 L1316.51,324.56ZM1335.9,297.7 L1339.49,308.76 L1351.12,308.76 L1341.71,315.59 L1345.3,326.64 L1335.9,319.81 L1326.5,326.64 L1330.09,315.59 L1320.68,308.76 L1332.31,308.76ZM1352.2,286.2 L1355.79,297.26 L1367.42,297.26 L1358.01,304.09 L1361.6,315.14 L1352.2,308.31 L1342.8,315.14 L1346.39,304.09 L1336.98,297.26 L1348.61,297.26ZM1368.6,268.8 L1372.19,279.86 L1383.82,279.86 L1374.41,286.69 L1378,297.74 L1368.6,290.91 L1359.2,297.74 L1362.79,286.69 L1353.38,279.86 L1365.01,279.86ZM1380.6,250.3 L1384.19,261.36 L1395.82,261.36 L1386.41,268.19 L1390,279.24 L1380.6,272.41 L1371.2,279.24 L1374.79,268.19 L1365.38,261.36 L1377.01,261.36ZM1400,233.5 L1403.59,244.56 L1415.22,244.56 L1405.81,251.39 L1409.4,262.44 L1400,255.61 L1390.6,262.44 L1394.19,251.39 L1384.78,244.56 L1396.41,244.56ZM1416.6,221.3 L1420.19,232.36 L1431.82,232.36 L1422.41,239.19 L1426,250.24 L1416.6,243.41 L1407.2,250.24 L1410.79,239.19 L1401.38,232.36 L1413.01,232.36ZM1432.1,206.3 L1435.69,217.36 L1447.32,217.36 L1437.91,224.19 L1441.5,235.24 L1432.1,228.41 L1422.7,235.24 L1426.29,224.19 L1416.88,217.36 L1428.51,217.36ZM1448,196.4 L1451.59,207.46 L1463.22,207.46 L1453.81,214.29 L1457.4,225.34 L1448,218.51 L1438.6,225.34 L1442.19,214.29 L1432.78,207.46 L1444.41,207.46ZM1462,185.8 L1465.59,196.86 L1477.22,196.86 L1467.81,203.69 L1471.4,214.74 L1462,207.91 L1452.6,214.74 L1456.19,203.69 L1446.78,196.86 L1458.41,196.86ZM1481,178.5 L1484.59,189.56 L1496.22,189.56 L1486.81,196.39 L1490.4,207.44 L1481,200.61 L1471.6,207.44 L1475.19,196.39 L1465.78,189.56 L1477.41,189.56ZM1497.2,164.2 L1500.79,175.26 L1512.42,175.26 L1503.01,182.09 L1506.6,193.14 L1497.2,186.31 L1487.8,193.14 L1491.39,182.09 L1481.98,175.26 L1493.61,175.26ZM1513.8,157.4 L1517.39,168.46 L1529.02,168.46 L1519.61,175.29 L1523.2,186.34 L1513.8,179.51 L1504.4,186.34 L1507.99,175.29 L1498.58,168.46 L1510.21,168.46ZM1531.2,147.7 L1534.79,158.76 L1546.42,158.76 L1537.01,165.59 L1540.6,176.64 L1531.2,169.81 L1521.8,176.64 L1525.39,165.59 L1515.98,158.76 L1527.61,158.76ZM1543.4,141 L1546.99,152.06 L1558.62,152.06 L1549.21,158.89 L1552.8,169.94 L1543.4,163.11 L1534,169.94 L1537.59,158.89 L1528.18,152.06 L1539.81,152.06ZM1560.5,134 L1564.09,145.06 L1575.72,145.06 L1566.31,151.89 L1569.9,162.94 L1560.5,156.11 L1551.1,162.94 L1554.69,151.89 L1545.28,145.06 L1556.91,145.06ZM1579.3,126.1 L1582.89,137.16 L1594.52,137.16 L1585.11,143.99 L1588.7,155.04 L1579.3,148.21 L1569.9,155.04 L1573.49,143.99 L1564.08,137.16 L1575.71,137.16ZM1598,118 L1601.59,129.06 L1613.22,129.06 L1603.81,135.89 L1607.4,146.94 L1598,140.11 L1588.6,146.94 L1592.19,135.89 L1582.78,129.06 L1594.41,129.06ZM1627.8,109.3 L1631.39,120.36 L1643.02,120.36 L1633.61,127.19 L1637.2,138.24 L1627.8,131.41 L1618.4,138.24 L1621.99,127.19 L1612.58,120.36 L1624.21,120.36ZM1641,107.2 L1644.59,118.26 L1656.22,118.26 L1646.81,125.09 L1650.4,136.14 L1641,129.31 L1631.6,136.14 L1635.19,125.09 L1625.78,118.26 L1637.41,118.26ZM1660.7,105.5 L1664.29,116.56 L1675.92,116.56 L1666.51,123.39 L1670.1,134.44 L1660.7,127.61 L1651.3,134.44 L1654.89,123.39 L1645.48,116.56 L1657.11,116.56ZM1676.6,104 L1680.19,115.06 L1691.82,115.06 L1682.41,121.89 L1686,132.94 L1676.6,126.11 L1667.2,132.94 L1670.79,121.89 L1661.38,115.06 L1673.01,115.06ZM1693.6,104 L1697.19,115.06 L1708.82,115.06 L1699.41,121.89 L1703,132.94 L1693.6,126.11 L1684.2,132.94 L1687.79,121.89 L1678.38,115.06 L1690.01,115.06ZM1710,106 L1713.59,117.06 L1725.22,117.06 L1715.81,123.89 L1719.4,134.94 L1710,128.11 L1700.6,134.94 L1704.19,123.89 L1694.78,117.06 L1706.41,117.06ZM1723.3,109 L1726.89,120.06 L1738.52,120.06 L1729.11,126.89 L1732.7,137.94 L1723.3,131.11 L1713.9,137.94 L1717.49,126.89 L1708.08,120.06 L1719.71,120.06ZM1742.2,114 L1745.79,125.06 L1757.42,125.06 L1748.01,131.89 L1751.6,142.94 L1742.2,136.11 L1732.8,142.94 L1736.39,131.89 L1726.98,125.06 L1738.61,125.06ZM1759.1,121.9 L1762.69,132.96 L1774.32,132.96 L1764.91,139.79 L1768.5,150.84 L1759.1,144.01 L1749.7,150.84 L1753.29,139.79 L1743.88,132.96 L1755.51,132.96ZM1775.8,132.2 L1779.39,143.26 L1791.02,143.26 L1781.61,150.09 L1785.2,161.14 L1775.8,154.31 L1766.4,161.14 L1769.99,150.09 L1760.58,143.26 L1772.21,143.26ZM1790.5,145.3 L1794.09,156.36 L1805.72,156.36 L1796.31,163.19 L1799.9,174.24 L1790.5,167.41 L1781.1,174.24 L1784.69,163.19 L1775.28,156.36 L1786.91,156.36ZM1803.8,155.9 L1807.39,166.96 L1819.02,166.96 L1809.61,173.79 L1813.2,184.84 L1803.8,178.01 L1794.4,184.84 L1797.99,173.79 L1788.58,166.96 L1800.21,166.96ZM1823.5,175.1 L1827.09,186.16 L1838.72,186.16 L1829.31,192.99 L1832.9,204.04 L1823.5,197.21 L1814.1,204.04 L1817.69,192.99 L1808.28,186.16 L1819.91,186.16ZM1840.1,189.2 L1843.69,200.26 L1855.32,200.26 L1845.91,207.09 L1849.5,218.14 L1840.1,211.31 L1830.7,218.14 L1834.29,207.09 L1824.88,200.26 L1836.51,200.26ZM1856.5,209.3 L1860.09,220.36 L1871.72,220.36 L1862.31,227.19 L1865.9,238.24 L1856.5,231.41 L1847.1,238.24 L1850.69,227.19 L1841.28,220.36 L1852.91,220.36ZM1885.5,257.3 L1889.09,268.36 L1900.72,268.36 L1891.31,275.19 L1894.9,286.24 L1885.5,279.41 L1876.1,286.24 L1879.69,275.19 L1870.28,268.36 L1881.91,268.36ZM1903.4,290.3 L1906.99,301.36 L1918.62,301.36 L1909.21,308.19 L1912.8,319.24 L1903.4,312.41 L1894,319.24 L1897.59,308.19 L1888.18,301.36 L1899.81,301.36ZM1921.9,328.8 L1925.49,339.86 L1937.12,339.86 L1927.71,346.69 L1931.3,357.74 L1921.9,350.91 L1912.5,357.74 L1916.09,346.69 L1906.68,339.86 L1918.31,339.86ZM1937.3,365.9 L1940.89,376.96 L1952.52,376.96 L1943.11,383.79 L1946.7,394.84 L1937.3,388.01 L1927.9,394.84 L1931.49,383.79 L1922.08,376.96 L1933.71,376.96ZM1951.2,390.6 L1954.79,401.66 L1966.42,401.66 L1957.01,408.49 L1960.6,419.54 L1951.2,412.71 L1941.8,419.54 L1945.39,408.49 L1935.98,401.66 L1947.61,401.66ZM1966.7,426.1 L1970.29,437.16 L1981.92,437.16 L1972.51,443.99 L1976.1,455.04 L1966.7,448.21 L1957.3,455.04 L1960.89,443.99 L1951.48,437.16 L1963.11,437.16ZM1335.9,382.1 L1339.49,393.16 L1351.12,393.16 L1341.71,399.99 L1345.3,411.04 L1335.9,404.21 L1326.5,411.04 L1330.09,399.99 L1320.68,393.16 L1332.31,393.16ZM1351.1,365.2 L1354.69,376.26 L1366.32,376.26 L1356.91,383.09 L1360.5,394.14 L1351.1,387.31 L1341.7,394.14 L1345.29,383.09 L1335.88,376.26 L1347.51,376.26ZM1364.8,350 L1368.39,361.06 L1380.02,361.06 L1370.61,367.89 L1374.2,378.94 L1364.8,372.11 L1355.4,378.94 L1358.99,367.89 L1349.58,361.06 L1361.21,361.06ZM1384.9,332 L1388.49,343.06 L1400.12,343.06 L1390.71,349.89 L1394.3,360.94 L1384.9,354.11 L1375.5,360.94 L1379.09,349.89 L1369.68,343.06 L1381.31,343.06ZM1400.2,316.2 L1403.79,327.26 L1415.42,327.26 L1406.01,334.09 L1409.6,345.14 L1400.2,338.31 L1390.8,345.14 L1394.39,334.09 L1384.98,327.26 L1396.61,327.26ZM1418.7,302 L1422.29,313.06 L1433.92,313.06 L1424.51,319.89 L1428.1,330.94 L1418.7,324.11 L1409.3,330.94 L1412.89,319.89 L1403.48,313.06 L1415.11,313.06ZM1432,290 L1435.59,301.06 L1447.22,301.06 L1437.81,307.89 L1441.4,318.94 L1432,312.11 L1422.6,318.94 L1426.19,307.89 L1416.78,301.06 L1428.41,301.06ZM1446.6,278.7 L1450.19,289.76 L1461.82,289.76 L1452.41,296.59 L1456,307.64 L1446.6,300.81 L1437.2,307.64 L1440.79,296.59 L1431.38,289.76 L1443.01,289.76ZM1466.3,265.8 L1469.89,276.86 L1481.52,276.86 L1472.11,283.69 L1475.7,294.74 L1466.3,287.91 L1456.9,294.74 L1460.49,283.69 L1451.08,276.86 L1462.71,276.86ZM1482.5,254.3 L1486.09,265.36 L1497.72,265.36 L1488.31,272.19 L1491.9,283.24 L1482.5,276.41 L1473.1,283.24 L1476.69,272.19 L1467.28,265.36 L1478.91,265.36ZM1498.2,244.5 L1501.79,255.56 L1513.42,255.56 L1504.01,262.39 L1507.6,273.44 L1498.2,266.61 L1488.8,273.44 L1492.39,262.39 L1482.98,255.56 L1494.61,255.56ZM1513.8,235 L1517.39,246.06 L1529.02,246.06 L1519.61,252.89 L1523.2,263.94 L1513.8,257.11 L1504.4,263.94 L1507.99,252.89 L1498.58,246.06 L1510.21,246.06ZM1527.3,227.2 L1530.89,238.26 L1542.52,238.26 L1533.11,245.09 L1536.7,256.14 L1527.3,249.31 L1517.9,256.14 L1521.49,245.09 L1512.08,238.26 L1523.71,238.26ZM1543.8,219.2 L1547.39,230.26 L1559.02,230.26 L1549.61,237.09 L1553.2,248.14 L1543.8,241.31 L1534.4,248.14 L1537.99,237.09 L1528.58,230.26 L1540.21,230.26ZM1563.6,211.2 L1567.19,222.26 L1578.82,222.26 L1569.41,229.09 L1573,240.14 L1563.6,233.31 L1554.2,240.14 L1557.79,229.09 L1548.38,222.26 L1560.01,222.26ZM1579.4,204.6 L1582.99,215.66 L1594.62,215.66 L1585.21,222.49 L1588.8,233.54 L1579.4,226.71 L1570,233.54 L1573.59,222.49 L1564.18,215.66 L1575.81,215.66ZM1595.7,198.3 L1599.29,209.36 L1610.92,209.36 L1601.51,216.19 L1605.1,227.24 L1595.7,220.41 L1586.3,227.24 L1589.89,216.19 L1580.48,209.36 L1592.11,209.36ZM1611.9,194.3 L1615.49,205.36 L1627.12,205.36 L1617.71,212.19 L1621.3,223.24 L1611.9,216.41 L1602.5,223.24 L1606.09,212.19 L1596.68,205.36 L1608.31,205.36ZM1625,190.6 L1628.59,201.66 L1640.22,201.66 L1630.81,208.49 L1634.4,219.54 L1625,212.71 L1615.6,219.54 L1619.19,208.49 L1609.78,201.66 L1621.41,201.66ZM1644.4,188.1 L1647.99,199.16 L1659.62,199.16 L1650.21,205.99 L1653.8,217.04 L1644.4,210.21 L1635,217.04 L1638.59,205.99 L1629.18,199.16 L1640.81,199.16ZM1658.1,186.2 L1661.69,197.26 L1673.32,197.26 L1663.91,204.09 L1667.5,215.14 L1658.1,208.31 L1648.7,215.14 L1652.29,204.09 L1642.88,197.26 L1654.51,197.26ZM1674,185.5 L1677.59,196.56 L1689.22,196.56 L1679.81,203.39 L1683.4,214.44 L1674,207.61 L1664.6,214.44 L1668.19,203.39 L1658.78,196.56 L1670.41,196.56ZM1690.8,187 L1694.39,198.06 L1706.02,198.06 L1696.61,204.89 L1700.2,215.94 L1690.8,209.11 L1681.4,215.94 L1684.99,204.89 L1675.58,198.06 L1687.21,198.06ZM1707.1,191.2 L1710.69,202.26 L1722.32,202.26 L1712.91,209.09 L1716.5,220.14 L1707.1,213.31 L1697.7,220.14 L1701.29,209.09 L1691.88,202.26 L1703.51,202.26ZM1725.3,198.8 L1728.89,209.86 L1740.52,209.86 L1731.11,216.69 L1734.7,227.74 L1725.3,220.91 L1715.9,227.74 L1719.49,216.69 L1710.08,209.86 L1721.71,209.86ZM1742.2,209 L1745.79,220.06 L1757.42,220.06 L1748.01,226.89 L1751.6,237.94 L1742.2,231.11 L1732.8,237.94 L1736.39,226.89 L1726.98,220.06 L1738.61,220.06ZM1758.3,219.8 L1761.89,230.86 L1773.52,230.86 L1764.11,237.69 L1767.7,248.74 L1758.3,241.91 L1748.9,248.74 L1752.49,237.69 L1743.08,230.86 L1754.71,230.86ZM1774.6,235 L1778.19,246.06 L1789.82,246.06 L1780.41,252.89 L1784,263.94 L1774.6,257.11 L1765.2,263.94 L1768.79,252.89 L1759.38,246.06 L1771.01,246.06ZM1787.3,250.9 L1790.89,261.96 L1802.52,261.96 L1793.11,268.79 L1796.7,279.84 L1787.3,273.01 L1777.9,279.84 L1781.49,268.79 L1772.08,261.96 L1783.71,261.96ZM1807.5,267.6 L1811.09,278.66 L1822.72,278.66 L1813.31,285.49 L1816.9,296.54 L1807.5,289.71 L1798.1,296.54 L1801.69,285.49 L1792.28,278.66 L1803.91,278.66ZM1823.7,291.8 L1827.29,302.86 L1838.92,302.86 L1829.51,309.69 L1833.1,320.74 L1823.7,313.91 L1814.3,320.74 L1817.89,309.69 L1808.48,302.86 L1820.11,302.86ZM1839.5,324.2 L1843.09,335.26 L1854.72,335.26 L1845.31,342.09 L1848.9,353.14 L1839.5,346.31 L1830.1,353.14 L1833.69,342.09 L1824.28,335.26 L1835.91,335.26ZM1855.6,355.1 L1859.19,366.16 L1870.82,366.16 L1861.41,372.99 L1865,384.04 L1855.6,377.21 L1846.2,384.04 L1849.79,372.99 L1840.38,366.16 L1852.01,366.16ZM1867.9,382.9 L1871.49,393.96 L1883.12,393.96 L1873.71,400.79 L1877.3,411.84 L1867.9,405.01 L1858.5,411.84 L1862.09,400.79 L1852.68,393.96 L1864.31,393.96ZM1888.9,423 L1892.49,434.06 L1904.12,434.06 L1894.71,440.89 L1898.3,451.94 L1888.9,445.11 L1879.5,451.94 L1883.09,440.89 L1873.68,434.06 L1885.31,434.06ZM1904.9,467.7 L1908.49,478.76 L1920.12,478.76 L1910.71,485.59 L1914.3,496.64 L1904.9,489.81 L1895.5,496.64 L1899.09,485.59 L1889.68,478.76 L1901.31,478.76ZM1921,512.5 L1924.59,523.56 L1936.22,523.56 L1926.81,530.39 L1930.4,541.44 L1921,534.61 L1911.6,541.44 L1915.19,530.39 L1905.78,523.56 L1917.41,523.56ZM1937.3,566.5 L1940.89,577.56 L1952.52,577.56 L1943.11,584.39 L1946.7,595.44 L1937.3,588.61 L1927.9,595.44 L1931.49,584.39 L1922.08,577.56 L1933.71,577.56ZM1951.2,609.7 L1954.79,620.76 L1966.42,620.76 L1957.01,627.59 L1960.6,638.64 L1951.2,631.81 L1941.8,638.64 L1945.39,627.59 L1935.98,620.76 L1947.61,620.76ZM1966.7,668.3 L1970.29,679.36 L1981.92,679.36 L1972.51,686.19 L1976.1,697.24 L1966.7,690.41 L1957.3,697.24 L1960.89,686.19 L1951.48,679.36 L1963.11,679.36Z" fill="#000" stroke="#000" stroke-width="2" stroke-linejoin="round"/>
<path d="M1229.92,603.17 L1230.32,602.37 L1230.72,601.58 L1231.12,600.78 L1231.52,599.98 L1231.92,599.19 L1232.32,598.39 L1232.72,597.6 L1233.12,596.8 L1233.52,596.01 L1233.92,595.22 L1234.32,594.42 L1234.72,593.63 L1235.12,592.83 L1235.52,592.04 L1235.92,591.24 L1236.33,590.45 L1236.73,589.66 L1237.13,588.86 L1237.53,588.07 L1237.93,587.28 L1238.34,586.48 L1238.74,585.69 L1239.14,584.9 L1239.54,584.11 L1239.95,583.31 L1240.35,582.52 L1240.75,581.73 L1241.16,580.94 L1241.56,580.15 L1241.97,579.35 L1242.37,578.56 L1242.77,577.77 L1243.18,576.98 L1243.58,576.19 L1243.99,575.4 L1244.39,574.61 L1244.8,573.82 L1245.21,573.03 L1245.61,572.24 L1246.02,571.45 L1246.42,570.66 L1246.83,569.87 L1247.24,569.08 L1247.64,568.29 L1248.05,567.5 L1248.46,566.71 L1248.87,565.92 L1249.28,565.13 L1249.68,564.34 L1250.09,563.56 L1250.5,562.77 L1250.91,561.98 L1251.32,561.19 L1251.73,560.41 L1252.14,559.62 L1252.55,558.83 L1252.96,558.04 L1253.37,557.26 L1253.78,556.47 L1254.19,555.69 L1254.6,554.9 L1255.01,554.11 L1255.42,553.33 L1255.84,552.54 L1256.25,551.76 L1256.66,550.97 L1257.07,550.19 L1257.49,549.4 L1257.9,548.62 L1258.32,547.83 L1258.73,547.05 L1259.14,546.27 L1259.56,545.48 L1259.97,544.7 L1260.39,543.92 L1260.8,543.13 L1261.22,542.35 L1261.64,541.57 L1262.05,540.79 L1262.47,540 L1262.89,539.22 L1263.3,538.44 L1263.72,537.66 L1264.14,536.88 L1264.56,536.1 L1264.98,535.32 L1265.4,534.54 L1265.81,533.76 L1266.23,532.98 L1266.65,532.2 L1267.07,531.42 L1267.5,530.64 L1267.92,529.86 L1268.34,529.08 L1268.76,528.3 L1269.18,527.52 L1269.6,526.75 L1270.03,525.97 L1270.45,525.19 L1270.87,524.41 L1271.3,523.64 L1271.72,522.86 L1272.15,522.08 L1272.57,521.31 L1273,520.53 L1273.42,519.75 L1273.85,518.98 L1274.27,518.2 L1274.7,517.43 L1275.13,516.65 L1275.56,515.88 L1275.98,515.11 L1276.41,514.33 L1276.84,513.56 L1277.27,512.78 L1277.7,512.01 L1278.13,511.24 L1278.56,510.47 L1278.99,509.69 L1279.42,508.92 L1279.85,508.15 L1280.29,507.38 L1280.72,506.61 L1281.15,505.84 L1281.58,505.07 L1282.02,504.3 L1282.45,503.53 L1282.89,502.76 L1283.32,501.99 L1283.76,501.22 L1284.19,500.45 L1284.63,499.68 L1285.07,498.91 L1285.5,498.14 L1285.94,497.37 L1286.38,496.61 L1286.82,495.84 L1287.25,495.07 L1287.69,494.31 L1288.13,493.54 L1288.57,492.77 L1289.02,492.01 L1289.46,491.24 L1289.9,490.48 L1290.34,489.71 L1290.78,488.95 L1291.23,488.19 L1291.67,487.42 L1292.11,486.66 L1292.56,485.89 L1293,485.13 L1293.45,484.37 L1293.89,483.61 L1294.34,482.85 L1294.79,482.08 L1295.23,481.32 L1295.68,480.56 L1296.13,479.8 L1296.58,479.04 L1297.03,478.28 L1297.48,477.52 L1297.93,476.76 L1298.38,476 L1298.83,475.24 L1299.28,474.49 L1299.74,473.73 L1300.19,472.97 L1300.64,472.21 L1301.1,471.46 L1301.55,470.7 L1302,469.94 L1302.46,469.19 L1302.92,468.43 L1303.37,467.68 L1303.83,466.92 L1304.29,466.17 L1304.75,465.41 L1305.2,464.66 L1305.66,463.9 L1306.12,463.15 L1306.58,462.4 L1307.05,461.65 L1307.51,460.89 L1307.97,460.14 L1308.43,459.39 L1308.89,458.64 L1309.36,457.89 L1309.82,457.14 L1310.29,456.39 L1310.75,455.64 L1311.22,454.89 L1311.69,454.14 L1312.15,453.39 L1312.62,452.64 L1313.09,451.9 L1313.56,451.15 L1314.03,450.4 L1314.5,449.65 L1314.97,448.91 L1315.44,448.16 L1315.91,447.42 L1316.38,446.67 L1316.86,445.93 L1317.33,445.18 L1317.81,444.44 L1318.28,443.7 L1318.76,442.95 L1319.23,442.21 L1319.71,441.47 L1320.19,440.72 L1320.66,439.98 L1321.14,439.24 L1321.62,438.5 L1322.1,437.76 L1322.58,437.02 L1323.06,436.28 L1323.55,435.54 L1324.03,434.8 L1324.51,434.06 L1324.99,433.33 L1325.48,432.59 L1325.96,431.85 L1326.45,431.11 L1326.94,430.38 L1327.42,429.64 L1327.91,428.91 L1328.4,428.17 L1328.89,427.44 L1329.38,426.7 L1329.87,425.97 L1330.36,425.23 L1330.85,424.5 L1331.34,423.77 L1331.84,423.04 L1332.33,422.3 L1332.82,421.57 L1333.32,420.84 L1333.81,420.11 L1334.31,419.38 L1334.81,418.65 L1335.3,417.92 L1335.8,417.19 L1336.3,416.46 L1336.8,415.74 L1337.3,415.01 L1337.8,414.28 L1338.31,413.55 L1338.81,412.83 L1339.31,412.1 L1339.82,411.38 L1340.32,410.65 L1340.83,409.93 L1341.33,409.2 L1341.84,408.48 L1342.35,407.76 L1342.86,407.03 L1343.36,406.31 L1343.87,405.59 L1344.39,404.87 L1344.9,404.15 L1345.41,403.43 L1345.92,402.71 L1346.44,401.99 L1346.95,401.27 L1347.46,400.55 L1347.98,399.83 L1348.5,399.11 L1349.01,398.4 L1349.53,397.68 L1350.05,396.96 L1350.57,396.25 L1351.09,395.53 L1351.61,394.82 L1352.13,394.1 L1352.66,393.39 L1353.18,392.67 L1353.7,391.96 L1354.23,391.25 L1354.76,390.54 L1355.28,389.82 L1355.81,389.11 L1356.34,388.4 L1356.87,387.69 L1357.4,386.98 L1357.93,386.27 L1358.46,385.56 L1358.99,384.86 L1359.52,384.15 L1360.06,383.44 L1360.59,382.73 L1361.13,382.03 L1361.66,381.32 L1362.2,380.62 L1362.74,379.91 L1363.28,379.21 L1363.82,378.5 L1364.36,377.8 L1364.9,377.1 L1365.44,376.4 L1365.98,375.69 L1366.53,374.99 L1367.07,374.29 L1367.62,373.59 L1368.16,372.89 L1368.71,372.19 L1369.26,371.49 L1369.81,370.8 L1370.35,370.1 L1370.91,369.4 L1371.46,368.7 L1372.01,368.01 L1372.56,367.31 L1373.12,366.62 L1373.67,365.92 L1374.23,365.23 L1374.78,364.54 L1375.34,363.84 L1375.9,363.15 L1376.46,362.46 L1377.02,361.77 L1377.58,361.08 L1378.14,360.39 L1378.7,359.7 L1379.26,359.01 L1379.83,358.32 L1380.39,357.63 L1380.96,356.95 L1381.53,356.26 L1382.09,355.57 L1382.66,354.89 L1383.23,354.2 L1383.8,353.52 L1384.37,352.84 L1384.95,352.15 L1385.52,351.47 L1386.09,350.79 L1386.67,350.11 L1387.24,349.43 L1387.82,348.75 L1388.4,348.07 L1388.97,347.39 L1389.55,346.72 L1390.13,346.04 L1390.71,345.36 L1391.3,344.69 L1391.88,344.01 L1392.46,343.34 L1393.05,342.67 L1393.63,342 L1394.22,341.32 L1394.81,340.65 L1395.39,339.98 L1395.98,339.32 L1396.57,338.65 L1397.16,337.98 L1397.75,337.31 L1398.35,336.65 L1398.94,335.98 L1399.53,335.32 L1400.13,334.66 L1400.72,333.99 L1401.32,333.33 L1401.92,332.67 L1402.52,332.01 L1403.12,331.35 L1403.72,330.69 L1404.32,330.04 L1404.92,329.38 L1405.52,328.72 L1406.13,328.07 L1406.73,327.41 L1407.34,326.76 L1407.95,326.11 L1408.55,325.46 L1409.16,324.81 L1409.77,324.16 L1410.38,323.51 L1410.99,322.86 L1411.6,322.22 L1412.22,321.57 L1412.83,320.93 L1413.45,320.28 L1414.06,319.64 L1414.68,319 L1415.3,318.36 L1415.91,317.72 L1416.53,317.08 L1417.15,316.44 L1417.78,315.81 L1418.4,315.17 L1419.02,314.54 L1419.64,313.9 L1420.27,313.27 L1420.9,312.64 L1421.52,312.01 L1422.15,311.38 L1422.78,310.75 L1423.41,310.12 L1424.04,309.5 L1424.67,308.87 L1425.3,308.25 L1425.93,307.63 L1426.57,307.01 L1427.2,306.38 L1427.84,305.77 L1428.48,305.15 L1429.11,304.53 L1429.75,303.91 L1430.39,303.3 L1431.03,302.69 L1431.67,302.07 L1432.32,301.46 L1432.96,300.85 L1433.6,300.24 L1434.25,299.63 L1434.89,299.03 L1435.54,298.42 L1436.19,297.82 L1436.84,297.21 L1437.49,296.61 L1438.14,296.01 L1438.79,295.41 L1439.44,294.81 L1440.09,294.22 L1440.75,293.62 L1441.4,293.03 L1442.06,292.43 L1442.72,291.84 L1443.38,291.25 L1444.03,290.66 L1444.69,290.07 L1445.36,289.49 L1446.02,288.9 L1446.68,288.32 L1447.34,287.73 L1448.01,287.15 L1448.67,286.57 L1449.34,285.99 L1450.01,285.42 L1450.68,284.84 L1451.35,284.27 L1452.02,283.69 L1452.69,283.12 L1453.36,282.55 L1454.03,281.98 L1454.71,281.41 L1455.38,280.84 L1456.06,280.28 L1456.73,279.72 L1457.41,279.15 L1458.09,278.59 L1458.77,278.03 L1459.45,277.47 L1460.13,276.92 L1460.82,276.36 L1461.5,275.81 L1462.18,275.26 L1462.87,274.71 L1463.56,274.16 L1464.24,273.61 L1464.93,273.06 L1465.62,272.52 L1466.31,271.97 L1467,271.43 L1467.69,270.89 L1468.39,270.35 L1469.08,269.82 L1469.78,269.28 L1470.47,268.74 L1471.17,268.21 L1471.87,267.68 L1472.57,267.15 L1473.27,266.62 L1473.97,266.1 L1474.67,265.57 L1475.37,265.05 L1476.07,264.53 L1476.78,264.01 L1477.48,263.49 L1478.19,262.97 L1478.9,262.45 L1479.61,261.94 L1480.32,261.43 L1481.03,260.92 L1481.74,260.41 L1482.45,259.9 L1483.16,259.4 L1483.88,258.89 L1484.59,258.39 L1485.31,257.89 L1486.03,257.39 L1486.74,256.89 L1487.46,256.4 L1488.18,255.9 L1488.9,255.41 L1489.63,254.92 L1490.35,254.43 L1491.07,253.94 L1491.8,253.46 L1492.52,252.97 L1493.25,252.49 L1493.98,252.01 L1494.71,251.53 L1495.44,251.05 L1496.17,250.57 L1496.9,250.1 L1497.63,249.63 L1498.37,249.16 L1499.1,248.69 L1499.84,248.22 L1500.57,247.75 L1501.31,247.29 L1502.05,246.82 L1502.79,246.36 L1503.53,245.9 L1504.27,245.44 L1505.01,244.98 L1505.76,244.53 L1506.5,244.08 L1507.25,243.62 L1507.99,243.17 L1508.74,242.72 L1509.49,242.28 L1510.24,241.83 L1510.99,241.39 L1511.74,240.94 L1512.49,240.5 L1513.24,240.06 L1514,239.62 L1514.75,239.19 L1515.51,238.75 L1516.27,238.32 L1517.02,237.89 L1517.78,237.46 L1518.54,237.03 L1519.3,236.6 L1520.07,236.17 L1520.83,235.75 L1521.59,235.33 L1522.36,234.91 L1523.12,234.49 L1523.89,234.07 L1524.66,233.65 L1525.43,233.24 L1526.2,232.83 L1526.97,232.41 L1527.74,232 L1528.51,231.59 L1529.28,231.19 L1530.06,230.78 L1530.83,230.38 L1531.61,229.98 L1532.39,229.57 L1533.17,229.17 L1533.95,228.78 L1534.73,228.38 L1535.51,227.99 L1536.29,227.59 L1537.07,227.2 L1537.86,226.81 L1538.64,226.42 L1539.43,226.03 L1540.22,225.65 L1541.01,225.26 L1541.79,224.88 L1542.58,224.5 L1543.38,224.12 L1544.17,223.74 L1544.96,223.36 L1545.76,222.99 L1546.55,222.61 L1547.35,222.24 L1548.14,221.87 L1548.94,221.5 L1549.74,221.13 L1550.54,220.77 L1551.34,220.4 L1552.14,220.04 L1552.95,219.68 L1553.75,219.32 L1554.55,218.96 L1555.36,218.6 L1556.17,218.25 L1556.97,217.89 L1557.78,217.54 L1558.59,217.19 L1559.4,216.84 L1560.22,216.49 L1561.03,216.14 L1561.84,215.8 L1562.66,215.46 L1563.47,215.11 L1564.29,214.77 L1565.11,214.43 L1565.92,214.1 L1566.74,213.76 L1567.56,213.43 L1568.39,213.1 L1569.21,212.77 L1570.03,212.44 L1570.86,212.11 L1571.68,211.78 L1572.51,211.46 L1573.34,211.14 L1574.16,210.81 L1574.99,210.5 L1575.82,210.18 L1576.65,209.86 L1577.49,209.55 L1578.32,209.23 L1579.15,208.92 L1579.99,208.61 L1580.83,208.3 L1581.66,208 L1582.5,207.69 L1583.34,207.39 L1584.18,207.09 L1585.02,206.79 L1585.86,206.49 L1586.71,206.19 L1587.55,205.9 L1588.39,205.61 L1589.24,205.31 L1590.09,205.02 L1590.94,204.74 L1591.78,204.45 L1592.63,204.17 L1593.48,203.88 L1594.34,203.6 L1595.19,203.32 L1596.04,203.04 L1596.9,202.77 L1597.75,202.49 L1598.61,202.22 L1599.47,201.95 L1600.33,201.68 L1601.19,201.41 L1602.05,201.15 L1602.91,200.88 L1603.77,200.62 L1604.64,200.36 L1605.5,200.1 L1606.37,199.84 L1607.23,199.59 L1608.1,199.33 L1608.97,199.08 L1609.84,198.83 L1610.71,198.58 L1611.58,198.34 L1612.45,198.09 L1613.32,197.85 L1614.2,197.61 L1615.07,197.37 L1615.95,197.14 L1616.82,196.9 L1617.7,196.67 L1618.58,196.44 L1619.46,196.22 L1620.33,195.99 L1621.21,195.77 L1622.09,195.55 L1622.97,195.33 L1623.85,195.12 L1624.74,194.91 L1625.62,194.7 L1626.5,194.49 L1627.38,194.29 L1628.27,194.09 L1629.15,193.89 L1630.03,193.69 L1630.92,193.5 L1631.8,193.31 L1632.69,193.13 L1633.57,192.94 L1634.46,192.76 L1635.34,192.59 L1636.23,192.41 L1637.12,192.24 L1638,192.07 L1638.89,191.91 L1639.78,191.75 L1640.66,191.59 L1641.55,191.44 L1642.43,191.29 L1643.32,191.14 L1644.21,191 L1645.09,190.86 L1645.98,190.72 L1646.87,190.59 L1647.75,190.46 L1648.64,190.34 L1649.52,190.21 L1650.41,190.1 L1651.3,189.98 L1652.18,189.88 L1653.07,189.77 L1653.95,189.67 L1654.83,189.57 L1655.72,189.48 L1656.6,189.39 L1657.49,189.31 L1658.37,189.23 L1659.25,189.15 L1660.13,189.08 L1661.01,189.01 L1661.89,188.95 L1662.77,188.89 L1663.65,188.84 L1664.53,188.79 L1665.41,188.74 L1666.29,188.7 L1667.17,188.67 L1668.04,188.64 L1668.92,188.61 L1669.8,188.59 L1670.67,188.57 L1671.54,188.56 L1672.42,188.56 L1673.29,188.56 L1674.16,188.56 L1675.03,188.57 L1675.9,188.58 L1676.77,188.6 L1677.63,188.63 L1678.5,188.66 L1679.37,188.69 L1680.23,188.74 L1681.09,188.78 L1681.96,188.83 L1682.82,188.89 L1683.68,188.95 L1684.54,189.02 L1685.39,189.1 L1686.25,189.18 L1687.11,189.26 L1687.96,189.35 L1688.81,189.45 L1689.66,189.55 L1690.51,189.66 L1691.36,189.78 L1692.21,189.9 L1693.06,190.02 L1693.9,190.16 L1694.74,190.29 L1695.59,190.44 L1696.43,190.59 L1697.26,190.75 L1698.1,190.91 L1698.94,191.08 L1699.77,191.26 L1700.6,191.44 L1701.43,191.63 L1702.26,191.83 L1703.09,192.03 L1703.92,192.24 L1704.74,192.45 L1705.56,192.68 L1706.38,192.9 L1707.2,193.14 L1708.02,193.38 L1708.83,193.63 L1709.65,193.89 L1710.46,194.15 L1711.27,194.42 L1712.07,194.7 L1712.88,194.99 L1713.68,195.28 L1714.48,195.58 L1715.28,195.88 L1716.08,196.19 L1716.88,196.51 L1717.67,196.84 L1718.46,197.17 L1719.25,197.51 L1720.04,197.86 L1720.82,198.21 L1721.6,198.57 L1722.38,198.93 L1723.16,199.3 L1723.94,199.68 L1724.72,200.07 L1725.49,200.46 L1726.26,200.85 L1727.03,201.25 L1727.79,201.66 L1728.56,202.08 L1729.32,202.5 L1730.08,202.92 L1730.84,203.35 L1731.59,203.79 L1732.35,204.23 L1733.1,204.68 L1733.85,205.14 L1734.6,205.6 L1735.34,206.06 L1736.08,206.53 L1736.82,207.01 L1737.56,207.49 L1738.3,207.97 L1739.03,208.46 L1739.76,208.96 L1740.49,209.46 L1741.22,209.96 L1741.95,210.48 L1742.67,210.99 L1743.39,211.51 L1744.11,212.04 L1744.83,212.57 L1745.54,213.1 L1746.25,213.64 L1746.96,214.18 L1747.67,214.73 L1748.37,215.28 L1749.08,215.84 L1749.78,216.4 L1750.48,216.96 L1751.17,217.53 L1751.86,218.1 L1752.56,218.68 L1753.24,219.26 L1753.93,219.84 L1754.62,220.43 L1755.3,221.02 L1755.98,221.62 L1756.65,222.22 L1757.33,222.82 L1758,223.43 L1758.67,224.04 L1759.34,224.65 L1760,225.27 L1760.67,225.89 L1761.33,226.51 L1761.99,227.14 L1762.64,227.76 L1763.3,228.4 L1763.95,229.03 L1764.6,229.67 L1765.24,230.31 L1765.89,230.96 L1766.53,231.6 L1767.17,232.25 L1767.8,232.9 L1768.44,233.56 L1769.07,234.21 L1769.7,234.87 L1770.32,235.54 L1770.95,236.2 L1771.57,236.87 L1772.19,237.53 L1772.8,238.21 L1773.42,238.88 L1774.03,239.55 L1774.64,240.23 L1775.24,240.91 L1775.85,241.59 L1776.45,242.27 L1777.05,242.96 L1777.64,243.64 L1778.24,244.33 L1778.83,245.02 L1779.42,245.71 L1780,246.4 L1780.59,247.1 L1781.17,247.79 L1781.75,248.49 L1782.32,249.18 L1782.89,249.88 L1783.47,250.58 L1784.03,251.28 L1784.6,251.98 L1785.16,252.69 L1785.72,253.39 L1786.28,254.09 L1786.83,254.8 L1787.38,255.5 L1787.93,256.21 L1788.48,256.92 L1789.02,257.63 L1789.57,258.34 L1790.11,259.05 L1790.64,259.76 L1791.18,260.47 L1791.71,261.18 L1792.24,261.9 L1792.77,262.61 L1793.29,263.32 L1793.81,264.04 L1794.33,264.76 L1794.85,265.47 L1795.37,266.19 L1795.88,266.91 L1796.39,267.63 L1796.9,268.35 L1797.41,269.07 L1797.91,269.8 L1798.42,270.52 L1798.92,271.24 L1799.41,271.97 L1799.91,272.69 L1800.4,273.42 L1800.9,274.14 L1801.39,274.87 L1801.88,275.6 L1802.36,276.33 L1802.85,277.06 L1803.33,277.79 L1803.81,278.52 L1804.29,279.25 L1804.76,279.99 L1805.24,280.72 L1805.71,281.45 L1806.18,282.19 L1806.65,282.92 L1807.12,283.66 L1807.58,284.4 L1808.05,285.14 L1808.51,285.87 L1808.97,286.61 L1809.43,287.35 L1809.89,288.09 L1810.34,288.84 L1810.8,289.58 L1811.25,290.32 L1811.7,291.06 L1812.15,291.81 L1812.6,292.55 L1813.05,293.3 L1813.49,294.05 L1813.93,294.79 L1814.38,295.54 L1814.82,296.29 L1815.26,297.04 L1815.69,297.79 L1816.13,298.54 L1816.57,299.29 L1817,300.04 L1817.43,300.79 L1817.86,301.55 L1818.29,302.3 L1818.72,303.05 L1819.15,303.81 L1819.58,304.56 L1820,305.32 L1820.43,306.08 L1820.85,306.84 L1821.27,307.59 L1821.69,308.35 L1822.11,309.11 L1822.53,309.87 L1822.95,310.63 L1823.37,311.39 L1823.78,312.16 L1824.2,312.92 L1824.61,313.68 L1825.03,314.45 L1825.44,315.21 L1825.85,315.98 L1826.26,316.74 L1826.67,317.51 L1827.08,318.28 L1827.49,319.04 L1827.9,319.81 L1828.3,320.58 L1828.71,321.35 L1829.11,322.12 L1829.52,322.89 L1829.92,323.66 L1830.33,324.43 L1830.73,325.2 L1831.13,325.98 L1831.53,326.75 L1831.93,327.52 L1832.33,328.3 L1832.73,329.07 L1833.13,329.85 L1833.53,330.63 L1833.93,331.4 L1834.33,332.18 L1834.73,332.96 L1835.13,333.74 L1835.52,334.51 L1835.92,335.29 L1836.32,336.07 L1836.71,336.85 L1837.11,337.64 L1837.5,338.42 L1837.9,339.2 L1838.29,339.98 L1838.69,340.76 L1839.08,341.55 L1839.48,342.33 L1839.87,343.12 L1840.26,343.9 L1840.65,344.69 L1841.05,345.47 L1841.44,346.26 L1841.83,347.05 L1842.22,347.84 L1842.61,348.62 L1843,349.41 L1843.39,350.2 L1843.78,350.99 L1844.17,351.78 L1844.56,352.57 L1844.95,353.36 L1845.34,354.15 L1845.73,354.95 L1846.11,355.74 L1846.5,356.53 L1846.89,357.32 L1847.27,358.12 L1847.66,358.91 L1848.05,359.71 L1848.43,360.5 L1848.82,361.3 L1849.2,362.09 L1849.59,362.89 L1849.97,363.69 L1850.35,364.49 L1850.74,365.28 L1851.12,366.08 L1851.5,366.88 L1851.89,367.68 L1852.27,368.48 L1852.65,369.28 L1853.03,370.08 L1853.41,370.88 L1853.79,371.68 L1854.17,372.48 L1854.55,373.28 L1854.93,374.09 L1855.31,374.89 L1855.69,375.69 L1856.07,376.5 L1856.45,377.3 L1856.83,378.1 L1857.2,378.91 L1857.58,379.71 L1857.96,380.52 L1858.34,381.33 L1858.71,382.13 L1859.09,382.94 L1859.46,383.75 L1859.84,384.55 L1860.21,385.36 L1860.59,386.17 L1860.96,386.98 L1861.34,387.79 L1861.71,388.59 L1862.08,389.4 L1862.46,390.21 L1862.83,391.02 L1863.2,391.83 L1863.57,392.64 L1863.94,393.46 L1864.31,394.27 L1864.69,395.08 L1865.06,395.89 L1865.43,396.7 L1865.8,397.52 L1866.17,398.33 L1866.53,399.14 L1866.9,399.96 L1867.27,400.77 L1867.64,401.59 L1868.01,402.4 L1868.37,403.21 L1868.74,404.03 L1869.11,404.85 L1869.47,405.66 L1869.84,406.48 L1870.21,407.29 L1870.57,408.11 L1870.94,408.93 L1871.3,409.74 L1871.67,410.56 L1872.03,411.38 L1872.39,412.2 L1872.76,413.02 L1873.12,413.83 L1873.48,414.65 L1873.85,415.47 L1874.21,416.29 L1874.57,417.11 L1874.93,417.93 L1875.29,418.75 L1875.65,419.57 L1876.01,420.39 L1876.37,421.21 L1876.73,422.03 L1877.09,422.86 L1877.45,423.68 L1877.81,424.5 L1878.17,425.32 L1878.53,426.14 L1878.88,426.97 L1879.24,427.79 L1879.6,428.61 L1879.95,429.43 L1880.31,430.26 L1880.67,431.08 L1881.02,431.9 L1881.38,432.73 L1881.73,433.55 L1882.09,434.38 L1882.44,435.2 L1882.8,436.03 L1883.15,436.85 L1883.5,437.68 L1883.86,438.5 L1884.21,439.33 L1884.56,440.15 L1884.91,440.98 L1885.26,441.8 L1885.62,442.63 L1885.97,443.46 L1886.32,444.28 L1886.67,445.11 L1887.02,445.93 L1887.37,446.76 L1887.72,447.59 L1888.07,448.42 L1888.42,449.24 L1888.76,450.07 L1889.11,450.9 L1889.46,451.73 L1889.81,452.55 L1890.15,453.38 L1890.5,454.21 L1890.85,455.04 L1891.19,455.87 L1891.54,456.69 L1891.89,457.52 L1892.23,458.35 L1892.58,459.18 L1892.92,460.01 L1893.26,460.84 L1893.61,461.67 L1893.95,462.5 L1894.29,463.33 L1894.64,464.15 L1894.98,464.98 L1895.32,465.81 L1895.66,466.64 L1896.01,467.47 L1896.35,468.3 L1896.69,469.13 L1897.03,469.96 L1897.37,470.79 L1897.71,471.62 L1898.05,472.45 L1898.39,473.28 L1898.73,474.11 L1899.07,474.94 L1899.4,475.77 L1899.74,476.6 L1900.08,477.43 L1900.42,478.26 L1900.75,479.1 L1901.09,479.93 L1901.43,480.76 L1901.76,481.59 L1902.1,482.42 L1902.44,483.25 L1902.77,484.08 L1903.11,484.91 L1903.44,485.74 L1903.77,486.57 L1904.11,487.4 L1904.44,488.23 L1904.77,489.06 L1905.11,489.89 L1905.44,490.73 L1905.77,491.56 L1906.1,492.39 L1906.44,493.22 L1906.77,494.05 L1907.1,494.88 L1907.43,495.71 L1907.76,496.54 L1908.09,497.37 L1908.42,498.2 L1908.75,499.03 L1909.08,499.86 L1909.41,500.69 L1909.74,501.52 L1910.06,502.36 L1910.39,503.19 L1910.72,504.02 L1911.05,504.85 L1911.37,505.68 L1911.7,506.51 L1912.03,507.34 L1912.35,508.17 L1912.68,509 L1913,509.83 L1913.33,510.66 L1913.65,511.49 L1913.98,512.32 L1914.3,513.15 L1914.63,513.98 L1914.95,514.81 L1915.27,515.64 L1915.59,516.47 L1915.92,517.3 L1916.24,518.13 L1916.56,518.95 L1916.88,519.78 L1917.2,520.61 L1917.53,521.44 L1917.85,522.27 L1918.17,523.1 L1918.49,523.93 L1918.81,524.76 L1919.13,525.58 L1919.44,526.41 L1919.76,527.24 L1920.08,528.07 L1920.4,528.9 L1920.72,529.73 L1921.04,530.55 L1921.35,531.38 L1921.67,532.21 L1921.99,533.04 L1922.3,533.86 L1922.62,534.69 L1922.94,535.52 L1923.25,536.35 L1923.57,537.17 L1923.88,538 L1924.2,538.83 L1924.51,539.65 L1924.83,540.48 L1925.14,541.31 L1925.46,542.13 L1925.77,542.96 L1926.08,543.79 L1926.4,544.61 L1926.71,545.44 L1927.02,546.27 L1927.33,547.09 L1927.65,547.92 L1927.96,548.74 L1928.27,549.57 L1928.58,550.4 L1928.89,551.22 L1929.21,552.05 L1929.52,552.87 L1929.83,553.7 L1930.14,554.52 L1930.45,555.35 L1930.76,556.17 L1931.07,557 L1931.38,557.83 L1931.69,558.65 L1932,559.48 L1932.31,560.3 L1932.62,561.13 L1932.93,561.95 L1933.23,562.78 L1933.54,563.6 L1933.85,564.42 L1934.16,565.25 L1934.47,566.07 L1934.78,566.9 L1935.08,567.72 L1935.39,568.55 L1935.7,569.37 L1936.01,570.2 L1936.31,571.02 L1936.62,571.84 L1936.93,572.67 L1937.23,573.49 L1937.54,574.32 L1937.85,575.14 L1938.15,575.97 L1938.46,576.79 L1938.76,577.61 L1939.07,578.44 L1939.38,579.26 L1939.68,580.08 L1939.99,580.91 L1940.29,581.73 L1940.6,582.56 L1940.9,583.38 L1941.21,584.2 L1941.51,585.03 L1941.82,585.85 L1942.12,586.67 L1942.43,587.5 L1942.73,588.32 L1943.04,589.14 L1943.34,589.97 L1943.65,590.79 L1943.95,591.61 L1944.26,592.44 L1944.56,593.26 L1944.86,594.08 L1945.17,594.91 L1945.47,595.73 L1945.78,596.55 L1946.08,597.38 L1946.38,598.2 L1946.69,599.02 L1946.99,599.85 L1947.29,600.67 L1947.6,601.49 L1947.9,602.31 L1948.2,603.14 L1948.51,603.96 L1948.81,604.78 L1949.11,605.61 L1949.42,606.43 L1949.72,607.25 L1950.02,608.07 L1950.33,608.9 L1950.63,609.72 L1950.93,610.54 L1951.24,611.37 L1951.54,612.19 L1951.84,613.01 L1952.15,613.83 L1952.45,614.66 L1952.75,615.48 L1953.06,616.3 L1953.36,617.13 L1953.66,617.95 L1953.97,618.77 L1954.27,619.59 L1954.57,620.42 L1954.88,621.24 L1955.18,622.06 L1955.48,622.89 L1955.79,623.71 L1956.09,624.53 L1956.39,625.35 L1956.7,626.18 L1957,627 L1957.3,627.82 L1957.61,628.65 L1957.91,629.47 L1958.21,630.29 L1958.52,631.11 L1958.82,631.94 L1959.12,632.76 L1959.43,633.58 L1959.73,634.41 L1960.04,635.23 L1960.34,636.05 L1960.64,636.87 L1960.95,637.7 L1961.25,638.52 L1961.56,639.34 L1961.86,640.17 L1962.17,640.99 L1962.47,641.81 L1962.78,642.64 L1963.08,643.46 L1963.38,644.28 L1963.69,645.11 L1963.99,645.93 L1964.3,646.75 L1964.61,647.58 L1964.91,648.4 L1965.22,649.22 L1965.52,650.05 L1965.83,650.87 L1966.13,651.69 L1966.44,652.52 L1966.75,653.34 L1967.05,654.16 L1967.36,654.99 L1967.66,655.81 L1967.97,656.63 L1968.28,657.46 L1968.58,658.28 L1968.89,659.11 L1969.2,659.93 L1969.51,660.75 L1969.81,661.58 L1970.12,662.4 L1970.43,663.23 L1970.74,664.05 L1971.05,664.87 L1971.35,665.7 L1971.66,666.52 L1971.97,667.35 L1972.28,668.17 L1972.59,669 L1972.9,669.82 L1973.21,670.64 L1973.52,671.47 L1973.83,672.29 L1974.14,673.12 L1974.45,673.94 L1974.76,674.77 L1975.07,675.59 L1975.38,676.42 L1975.69,677.24 L1976,678.07 L1976.31,678.89 L1976.62,679.72 L1976.93,680.54 L1977.25,681.37 L1977.56,682.19 L1977.87,683.02 L1978.18,683.85 L1978.5,684.67 L1978.81,685.5 L1979.12,686.32 L1979.44,687.15 L1979.75,687.97 L1980.06,688.8 L1980.38,689.63 L1980.69,690.45 L1981.01,691.28 L1981.32,692.1 L1981.64,692.93 L1981.95,693.76 L1982.27,694.58 L1982.59,695.41 L1982.9,696.24 L1983.22,697.06 L1983.54,697.89 L1983.85,698.72 L1984.17,699.54 L1984.49,700.37 L1984.81,701.2 L1985.12,702.03 L1985.44,702.85 L1985.76,703.68 L1986.08,704.51 L1986.4,705.34 L1986.72,706.16 L1987.04,706.99 L1987.36,707.82 L1987.68,708.65 L1988,709.48 L1988.32,710.3 L1988.65,711.13 L1988.97,711.96 L1989.29,712.79 L1989.61,713.62 L1989.94,714.45 L1990.26,715.27 L1990.58,716.1 L1990.91,716.93 L1991.23,717.76 L1991.55,718.59 L1991.88,719.42 L1992.21,720.25 L1992.53,721.08 L1992.86,721.91 L1993.18,722.74 L1993.51,723.57 L1993.84,724.4 L1994.16,725.23 L1994.49,726.06 L1994.82,726.89 L1995.15,727.72 L1995.48,728.55 L1995.81,729.38 L1996.14,730.21 L1996.47,731.04 L1996.8,731.87 L1997.13,732.7 L1997.46,733.54 L1997.79,734.37 L1998.12,735.2 L1998.46,736.03 L1998.79,736.86 L1999.12,737.69 L1999.46,738.53 L1999.79,739.36 L2000.12,740.19 L2000.46,741.02 L2000.79,741.85 L2001.13,742.69 L2001.47,743.52 L2001.8,744.35 L2002.14,745.19 L2002.48,746.02 L2002.82,746.85 L2003.15,747.69 L2003.49,748.52 L2003.83,749.35 L2004.17,750.19 L2004.51,751.02 L2004.85,751.86 L2005.19,752.69 L2005.53,753.52 L2005.88,754.36 L2006.22,755.19 L2006.56,756.03 L2006.9,756.86 L2007.25,757.7 L2007.59,758.53 L2007.94,759.37 L2008.28,760.2" fill="none" stroke="#FF0000" stroke-width="7" />
<path d="M1227.25,478.29 L1233.27,469.08 M1245.35,450.27 L1251.25,440.99 M1260.6,426.21 L1266.48,416.91 M1276.78,400.68 L1282.71,391.42 M1294.09,373.86 L1300.15,364.68 M1310.2,349.75 L1316.44,340.69 M1326.87,325.95 L1333.36,317.07 M1344.72,302.03 L1351.51,293.37 M1363.47,278.77 L1370.62,270.42 M1383.79,255.79 L1391.37,247.82 M1405.37,233.9 L1413.39,226.37 M1427.01,214.28 L1435.44,207.22 M1450.31,195.51 L1459.16,188.97 M1475.93,177.44 L1485.21,171.54 M1500.65,162.41 L1510.31,157.14 M1528.3,148.21 L1538.34,143.72 M1557.6,136.06 L1567.99,132.44 M1586.37,126.92 L1597.03,124.23 M1615.17,120.5 L1626.03,118.77 M1646.08,116.61 L1657.06,116.01 M1674.86,115.99 L1685.84,116.61 M1706.94,119.28 L1717.71,121.49 M1735.04,126.41 L1745.35,130.26 M1759.68,136.93 L1769.23,142.38 M1786.31,154.29 L1794.81,161.27 M1809.48,174.97 L1817.11,182.9 M1830.66,198.36 L1837.59,206.9 M1849.07,221.91 L1855.54,230.8 M1866.02,245.8 L1872.14,254.93 M1883.77,273.04 L1889.53,282.4 M1899.59,299.35 L1905.06,308.89 M1914.64,326.11 L1919.88,335.78 M1929.53,354.06 L1934.57,363.84 M1943.28,381.13 L1948.16,390.99 M1956.33,407.85 L1961.06,417.79 M1969.37,435.54 L1973.98,445.53 M1982.04,463.26 L1989.78,480.61 M1998.12,499.6 L2002.11,508.76" fill="none" stroke="#FF0000" stroke-width="7"/>
<path d="M351,1091.4 L436.5,1091.4 L1196,1504 L1955.5,1091.4 L2042,1091.4" fill="none" stroke="#000" stroke-width="7.5" stroke-miterlimit="10"/>
<path d="M603.6,1184.5 L1196,1288.2 L1788.4,1184.5" fill="none" stroke="#FF0000" stroke-width="7" stroke-miterlimit="10"/>
<path d="M654,1210.5 L1196,1294.8 L1732,1211.4" fill="none" stroke="#FF0000" stroke-width="7" stroke-dasharray="12.5 17.9" stroke-miterlimit="10"/>
<path d="M722,1249 L1196,1326 L1670,1249" fill="none" stroke="#00FF00" stroke-width="7" stroke-miterlimit="10"/>
<rect x="377" y="1330.5" width="141" height="7" fill="#000"/>
<rect x="377" y="1400" width="141" height="8" fill="#FF0000"/>
<rect x="377" y="1482" width="141" height="8" fill="#00FF00"/>
<line x1="1195.7" y1="1073" x2="1195.7" y2="1383" stroke="#000" stroke-width="2.2"/>
<line x1="1195.7" y1="1446" x2="1195.7" y2="1480" stroke="#000" stroke-width="2.2"/>
<path d="M1195.5,1329 L1204.5,1362.5 L1186.5,1362.5 Z" fill="#000"/>
<path d="M1195.5,1499.5 L1186.5,1468.3 L1204.5,1468.3 Z" fill="#000"/>
<line x1="1210" y1="1089" x2="1387" y2="1089" stroke="#000" stroke-width="2.2"/>
<line x1="1479" y1="1089" x2="1930" y2="1089" stroke="#000" stroke-width="2.2"/>
<path d="M1197.7,1089 L1231.8,1080 L1231.8,1098 Z" fill="#000"/>
<path d="M1952.4,1089.5 L1916.2,1098.5 L1916.2,1080.5 Z" fill="#000"/>
<line x1="1215" y1="1504" x2="2021" y2="1504" stroke="#000" stroke-width="2.2"/>
<path d="M1200.6,1504 L1232,1495 L1232,1513 Z" fill="#000"/>
<path d="M1665.4,1503.6 L1632.1,1512.6 L1632.1,1494.6 Z" fill="#000"/>
<line x1="1665.9" y1="1270" x2="1665.9" y2="1363.4" stroke="#000" stroke-width="2.2"/>
<line x1="1665.9" y1="1447.3" x2="1665.9" y2="1480" stroke="#000" stroke-width="2.2"/>
<path d="M1665.6,1252.2 L1674.6,1286.7 L1656.6,1286.7 Z" fill="#000"/>
<path d="M1665.9,1503 L1656.9,1469.1 L1674.9,1469.1 Z" fill="#000"/>
<line x1="2012.7" y1="1100" x2="2012.7" y2="1362" stroke="#000" stroke-width="2.2"/>
<line x1="2012.7" y1="1448.4" x2="2012.7" y2="1480" stroke="#000" stroke-width="2.2"/>
<path d="M2012.7,1086.4 L2021.7,1124 L2003.7,1124 Z" fill="#000"/>
<path d="M2012.7,1502.6 L2003.7,1472 L2021.7,1472 Z" fill="#000"/>
<line x1="1838" y1="1198.8" x2="1805" y2="1190" stroke="#000" stroke-width="2.5"/>
<path d="M1788,1183.8 L1823,1185.8 L1811.3,1192.8 L1818.8,1203.3 Z" fill="#000"/>
<line x1="1836.8" y1="1270.9" x2="1755" y2="1225" stroke="#000" stroke-width="2.5"/>
<path d="M1736.9,1213.9 L1773,1223.6 L1758.7,1227.4 L1764,1239.8 Z" fill="#000"/>
<text transform="translate(322.7,249.8) scale(1,1.04)" font-size="75" text-anchor="end">1.572</text>
<text transform="translate(322.7,455) scale(1,1.04)" font-size="75" text-anchor="end">1.571</text>
<text transform="translate(322.7,659.5) scale(1,1.04)" font-size="75" text-anchor="end">1.570</text>
<text transform="translate(2069.8,110) scale(1,1.04)" font-size="75" text-anchor="start">1.56</text>
<text transform="translate(2069.8,405) scale(1,1.04)" font-size="75" text-anchor="start">1.55</text>
<text transform="translate(2069.8,700) scale(1,1.04)" font-size="75" text-anchor="start">1.54</text>
<text transform="translate(402.5,867) scale(1,1.04)" font-size="75" text-anchor="middle">-20</text>
<text transform="translate(609,867) scale(1,1.04)" font-size="75" text-anchor="middle">0</text>
<text transform="translate(815.5,867) scale(1,1.04)" font-size="75" text-anchor="middle">20</text>
<text transform="translate(1022,867) scale(1,1.04)" font-size="75" text-anchor="middle">40</text>
<text transform="translate(1229,867) scale(1,1.04)" font-size="75" text-anchor="middle">-50</text>
<text transform="translate(1554,867) scale(1,1.04)" font-size="75" text-anchor="middle">0</text>
<text transform="translate(1879,867) scale(1,1.04)" font-size="75" text-anchor="middle">50</text>
<text transform="translate(569.58,971) scale(1,1.04)" font-size="88" >F [kV/cm]</text>
<text transform="translate(1451.68,966) scale(1,1.04)" font-size="88" >F [kV/cm]</text>
<text transform="translate(84,536.22) rotate(-90) scale(1,1.04)" font-size="88">E<tspan font-size="58.7" dy="24">X</tspan><tspan dy="-24"> [eV]</tspan></text>
<text transform="translate(2346,564.22) rotate(-90) scale(1,1.04)" font-size="88">E<tspan font-size="58.7" dy="24">X</tspan><tspan dy="-24"> [eV]</tspan></text>
<text transform="translate(391.97,152.2) scale(1,1)" font-size="81" font-weight="bold" >(a)</text>
<text transform="translate(1220.87,132.8) scale(1,1)" font-size="81" font-weight="bold" >(b)</text>
<text transform="translate(595.1,704) scale(1,1)" font-size="69" >d</text>
<text transform="translate(634.18,722.6) scale(1,1.04)" font-size="46.6" >F</text>
<text transform="translate(682.43,704) scale(1,1.04)" font-size="69" text-anchor="start">= 0.44</text>
<text transform="translate(895.36,704) scale(1,1)" font-size="69" text-anchor="start">nm</text>
<text transform="translate(1431.1,708) scale(1,1)" font-size="69" >d</text>
<text transform="translate(1471.18,726.7) scale(1,1.04)" font-size="46.6" >F</text>
<text transform="translate(1518.63,708) scale(1,1.04)" font-size="69" text-anchor="start">= 0.66</text>
<text transform="translate(1731.56,708) scale(1,1)" font-size="69" text-anchor="start">nm</text>
<text transform="translate(1846.82,182.5) scale(1,1.04)" font-size="63" >QD2</text>
<text transform="translate(1689.72,396) scale(1,1.04)" font-size="63" >QD1</text>
<text transform="translate(323,1114) scale(1,1.04)" font-size="75" text-anchor="end">0</text>
<text transform="translate(323,1535) scale(1,1.04)" font-size="75" text-anchor="end">-25</text>
<text transform="translate(232.4,1399.77) rotate(-90) scale(1,1.02)" font-size="88">z [nm]</text>
<text transform="translate(385.07,1238) scale(1,1)" font-size="81" font-weight="bold" >(c)</text>
<text transform="translate(532.7,1354.9) scale(1,1)" font-size="62" >hole</text>
<text transform="translate(532.8,1425.5) scale(1,1)" font-size="62" >d</text>
<text transform="translate(568.62,1441.5) scale(1,1.04)" font-size="40" >F</text>
<text transform="translate(607.07,1425.5) scale(1,1.04)" font-size="62" text-anchor="start">= 0.66</text>
<text transform="translate(798.4,1425.5) scale(1,1)" font-size="62" text-anchor="start">nm</text>
<text transform="translate(532.8,1507.6) scale(1,1)" font-size="62" >d</text>
<text transform="translate(568.62,1523.6) scale(1,1.04)" font-size="40" >F</text>
<text transform="translate(611.77,1507.6) scale(1,1.04)" font-size="62" text-anchor="start">= 0.44</text>
<text transform="translate(803.1,1507.6) scale(1,1)" font-size="62" text-anchor="start">nm</text>
<text transform="translate(1835.42,1225.9) scale(1,1.04)" font-size="63" font-weight="bold" >QD1</text>
<text transform="translate(1838.42,1300.5) scale(1,1.04)" font-size="63" font-weight="bold" >QD2</text>
<text transform="translate(1409.98,1103.8) scale(1,1)" font-size="56" >r</text>
<text transform="translate(1429.18,1118.9) scale(1,1.04)" font-size="46.6" >H</text>
<text transform="translate(1161.12,1418.9) scale(1,1)" font-size="56" >h</text>
<text transform="translate(1191.99,1434.1) scale(1,1.04)" font-size="46.6" >QD</text>
<text transform="translate(1632.55,1415) scale(1,1)" font-size="56" >d</text>
<text transform="translate(1663.69,1430.2) scale(1,1.04)" font-size="46.6" >QD</text>
<text transform="translate(1402.28,1478.9) scale(1,1)" font-size="56" >r</text>
<text transform="translate(1420.79,1494.8) scale(1,1.04)" font-size="46.6" >QD</text>
<text transform="translate(1963.85,1410.2) scale(1,1)" font-size="56" >d</text>
<text transform="translate(1995.78,1426) scale(1,1.04)" font-size="46.6" >H</text>
<text transform="translate(520,1633) scale(1,1.04)" font-size="75" text-anchor="middle">-40</text>
<text transform="translate(1196.5,1633) scale(1,1.04)" font-size="75" text-anchor="middle">0</text>
<text transform="translate(1873,1633) scale(1,1.04)" font-size="75" text-anchor="middle">40</text>
<text transform="translate(1072.16,1712) scale(1,1)" font-size="88" >r [nm]</text></svg></body></html>
